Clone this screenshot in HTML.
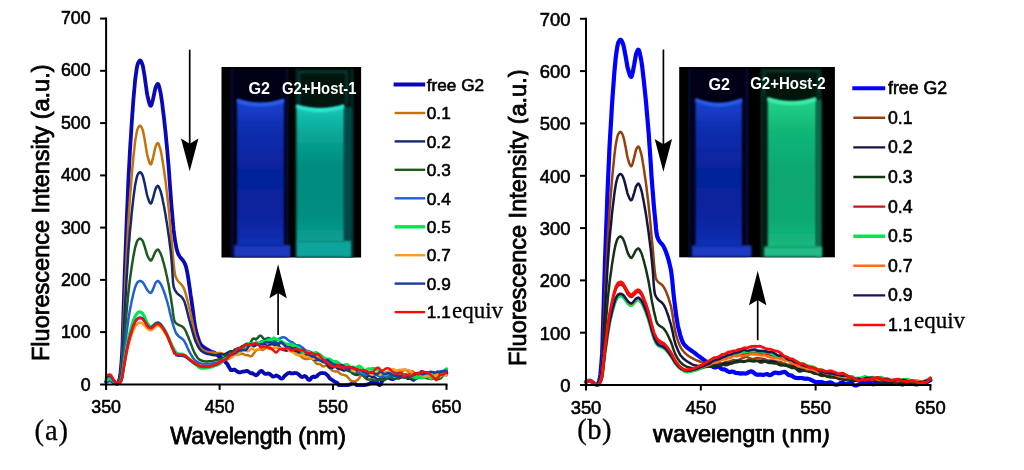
<!DOCTYPE html>
<html lang="en"><head><meta charset="utf-8"><title>Fluorescence spectra of G2 with Host-1 and Host-2</title>
<style>html,body{margin:0;padding:0;background:#fff}svg{display:block;filter:blur(.45px)}.t text{stroke:#000;stroke-width:.6px}</style></head><body>
<svg width="1024" height="470" viewBox="0 0 1024 470">
<defs>
<filter id="b1" filterUnits="userSpaceOnUse" x="200" y="50" width="660" height="230"><feGaussianBlur stdDeviation="0.9"/></filter>
<filter id="b2" filterUnits="userSpaceOnUse" x="200" y="50" width="660" height="230"><feGaussianBlur stdDeviation="1.4"/></filter>
<clipPath id="clipA"><rect x="221.5" y="67" width="139.6" height="190.5"/></clipPath>
<clipPath id="clipB"><rect x="679.2" y="67" width="155.7" height="190.3"/></clipPath>
<clipPath id="clipYL"><rect x="490" y="40" width="38.4" height="340"/></clipPath>
<clipPath id="clipWL"><rect x="600" y="428.7" width="300" height="30"/></clipPath>
<linearGradient id="gAl" x1="0" y1="0" x2="0" y2="1"><stop offset="0" stop-color="#2858e6"/><stop offset="0.04" stop-color="#1840cc"/><stop offset="0.2" stop-color="#0e2eb0"/><stop offset="0.5" stop-color="#06229a"/><stop offset="0.8" stop-color="#08249e"/><stop offset="1" stop-color="#1030b4"/></linearGradient>
<linearGradient id="gAr" x1="0" y1="0" x2="0" y2="1"><stop offset="0" stop-color="#30e8d4"/><stop offset="0.04" stop-color="#14c4b0"/><stop offset="0.2" stop-color="#0aa898"/><stop offset="0.45" stop-color="#008c7e"/><stop offset="0.8" stop-color="#028e80"/><stop offset="1" stop-color="#0aa094"/></linearGradient>
<linearGradient id="gBl" x1="0" y1="0" x2="0" y2="1"><stop offset="0" stop-color="#2858e6"/><stop offset="0.04" stop-color="#1840cc"/><stop offset="0.2" stop-color="#0e2eb0"/><stop offset="0.5" stop-color="#06229a"/><stop offset="0.8" stop-color="#08249e"/><stop offset="1" stop-color="#1030b4"/></linearGradient>
<linearGradient id="gBr" x1="0" y1="0" x2="0" y2="1"><stop offset="0" stop-color="#40f0a8"/><stop offset="0.04" stop-color="#20d088"/><stop offset="0.2" stop-color="#12b878"/><stop offset="0.5" stop-color="#08a86e"/><stop offset="0.8" stop-color="#0aaa70"/><stop offset="1" stop-color="#18b87e"/></linearGradient>
</defs>
<rect width="1024" height="470" fill="#fff"/>
<g id="chart-a">
<g fill="none" stroke-linejoin="round" stroke-linecap="round">
<path stroke="#0a0ab4" stroke-width="3.8" d="M106.1 381.8 L106.7 381.3 L107.2 381.0 L107.8 380.7 L108.4 380.5 L108.9 380.3 L109.5 380.2 L110.1 380.2 L110.6 380.3 L111.2 380.5 L111.8 380.8 L112.3 381.2 L112.9 381.6 L113.5 382.0 L114.0 382.3 L114.6 382.6 L115.2 383.0 L115.7 383.3 L116.3 383.6 L116.9 383.8 L117.4 383.9 L118.0 383.4 L118.6 382.1 L119.1 380.2 L119.7 377.9 L120.3 374.6 L120.8 369.7 L121.4 363.1 L122.0 355.2 L122.6 342.9 L123.1 325.0 L123.7 305.3 L124.3 287.2 L124.8 271.2 L125.4 255.5 L126.0 240.3 L126.5 225.6 L127.1 211.3 L127.7 197.4 L128.2 184.2 L128.8 172.2 L129.4 161.4 L129.9 151.5 L130.5 142.2 L131.1 133.3 L131.6 124.6 L132.2 116.1 L132.8 108.2 L133.3 100.9 L133.9 94.0 L134.5 87.4 L135.0 81.5 L135.6 76.6 L136.2 72.4 L136.7 68.6 L137.3 65.6 L137.9 63.6 L138.4 62.4 L139.0 61.4 L139.6 60.7 L140.1 60.4 L140.7 60.7 L141.3 61.7 L141.8 63.0 L142.4 64.5 L143.0 66.6 L143.5 69.7 L144.1 73.2 L144.7 76.8 L145.2 80.5 L145.8 84.8 L146.4 89.0 L146.9 92.9 L147.5 95.9 L148.1 98.3 L148.6 100.7 L149.2 102.8 L149.8 104.5 L150.3 105.6 L150.9 105.8 L151.5 104.9 L152.0 103.1 L152.6 100.7 L153.2 98.4 L153.7 96.0 L154.3 93.2 L154.9 90.3 L155.5 87.9 L156.0 86.5 L156.6 85.3 L157.2 84.4 L157.7 83.9 L158.3 84.3 L158.9 85.7 L159.4 87.8 L160.0 90.2 L160.6 92.7 L161.1 96.0 L161.7 99.9 L162.3 104.1 L162.8 108.7 L163.4 113.3 L164.0 118.0 L164.5 123.0 L165.1 128.3 L165.7 133.8 L166.2 139.6 L166.8 145.7 L167.4 151.9 L167.9 158.3 L168.5 165.1 L169.1 172.7 L169.6 180.6 L170.2 188.6 L170.8 196.4 L171.3 203.7 L171.9 210.5 L172.5 217.3 L173.0 223.8 L173.6 229.7 L174.2 234.5 L174.7 238.4 L175.3 242.0 L175.9 245.2 L176.4 248.0 L177.0 250.4 L177.6 252.2 L178.1 253.6 L178.7 254.8 L179.3 255.8 L179.8 256.7 L180.4 257.4 L181.0 258.1 L181.5 258.8 L182.1 259.4 L182.7 260.1 L183.2 260.8 L183.8 261.7 L184.4 262.7 L184.9 263.9 L185.5 265.2 L186.1 267.0 L186.6 269.4 L187.2 272.2 L187.8 275.5 L188.4 279.0 L188.9 282.8 L189.5 286.7 L190.1 290.7 L190.6 294.7 L191.2 298.6 L191.8 302.4 L192.3 306.2 L192.9 310.5 L193.5 314.9 L194.0 319.3 L194.6 323.3 L195.2 326.8 L195.7 329.5 L196.3 331.8 L196.9 333.9 L197.4 335.9 L198.0 337.7 L198.6 339.4 L199.1 341.0 L199.7 342.3 L200.3 343.5 L200.8 344.5 L201.4 345.2 L202.0 345.8 L202.5 346.3 L203.1 346.8 L203.7 347.2 L204.2 347.6 L204.8 348.0 L205.4 348.3 L205.9 348.6 L206.5 348.9 L207.1 349.2 L207.6 349.6 L208.2 349.9 L209.3 350.6 L210.5 351.2 L211.6 351.7 L212.7 352.1 L213.9 352.6 L215.0 353.0 L216.1 353.8 L217.3 354.8 L218.4 356.1 L219.6 356.9 L220.7 357.6 L221.8 358.4 L223.0 359.6 L224.1 361.0 L225.2 361.9 L226.4 363.1 L227.5 364.2 L228.6 366.6 L229.8 368.5 L230.9 370.2 L232.0 370.1 L233.2 369.8 L234.3 369.5 L235.4 370.2 L236.6 371.1 L237.7 371.8 L238.8 372.3 L240.0 372.3 L241.1 372.1 L242.2 371.7 L243.4 371.7 L244.5 371.4 L245.6 371.4 L246.8 370.8 L247.9 371.3 L249.0 372.0 L250.2 372.8 L251.3 373.4 L252.5 373.2 L253.6 374.1 L254.7 374.7 L255.9 375.4 L257.0 374.8 L258.1 373.8 L259.3 372.3 L260.4 371.2 L261.5 370.8 L262.7 371.8 L263.8 372.9 L264.9 373.9 L266.1 373.8 L267.2 373.8 L268.3 373.4 L269.5 373.9 L270.6 374.6 L271.7 375.8 L272.9 376.5 L274.0 376.4 L275.1 376.0 L276.3 375.4 L277.4 375.9 L278.5 376.4 L279.7 377.6 L280.8 378.5 L281.9 378.6 L283.1 378.0 L284.2 376.3 L285.4 375.3 L286.5 374.3 L287.6 373.3 L288.8 373.0 L289.9 372.7 L291.0 373.5 L292.2 373.3 L293.3 373.4 L294.4 373.0 L295.6 373.1 L296.7 373.2 L297.8 373.8 L299.0 374.7 L300.1 375.9 L301.2 376.8 L302.4 377.0 L303.5 376.5 L304.6 376.0 L305.8 376.5 L306.9 377.8 L308.0 379.5 L309.2 379.9 L310.3 379.6 L311.4 377.7 L312.6 377.0 L313.7 376.5 L314.8 377.1 L316.0 376.7 L317.1 375.9 L318.3 374.5 L319.4 373.8 L320.5 373.2 L321.7 373.1 L322.8 373.0 L323.9 373.2 L325.1 373.4 L326.2 374.1 L327.3 375.1 L328.5 376.5 L329.6 378.1 L330.7 379.0 L331.9 379.8 L333.0 380.5 L334.1 381.4 L335.3 382.0 L336.4 382.4 L337.5 383.1 L338.7 385.1 L339.8 385.2 L340.9 385.2 L342.1 385.2 L343.2 385.1 L344.3 385.2 L345.5 385.2 L346.6 385.2 L347.7 385.2 L348.9 384.6 L350.0 384.6 L351.2 383.8 L352.3 383.7 L353.4 382.7 L354.6 383.4 L355.7 384.3 L356.8 385.2 L358.0 385.2 L359.1 385.2 L360.2 385.2 L361.4 385.2 L362.5 385.2 L363.6 385.2 L364.8 385.1 L365.9 384.7 L367.0 384.7 L368.2 384.2 L369.3 384.0 L370.4 382.9 L371.6 383.0 L372.7 382.9 L373.8 383.1 L375.0 382.5 L376.1 382.3 L377.2 383.2 L378.4 384.4 L379.5 385.1 L380.6 384.4 L381.8 382.1 L382.9 379.4 L384.1 377.2 L385.2 376.7 L386.3 376.8 L387.5 377.5 L388.6 377.9 L389.7 378.3 L390.9 378.8 L392.0 379.0 L393.1 379.0 L394.3 378.4 L395.4 377.9 L396.5 377.7 L397.7 377.7 L398.8 377.8 L399.9 377.3 L401.1 376.7 L402.2 376.3 L403.3 376.5 L404.5 376.6 L405.6 377.0 L406.7 377.2 L407.9 378.2 L409.0 378.1 L410.1 378.2 L411.3 378.4 L412.4 379.3 L413.5 379.9 L414.7 378.7 L415.8 377.6 L417.0 376.2 L418.1 375.7 L419.2 374.4 L420.4 373.4 L421.5 372.0 L422.6 372.2 L423.8 373.2 L424.9 375.4 L426.0 376.5 L427.2 376.4 L428.3 376.5 L429.4 377.3 L430.6 378.2 L431.7 377.9 L432.8 377.0 L434.0 376.4 L435.1 376.3 L436.2 376.3 L437.4 376.5 L438.5 375.7 L439.6 374.9 L440.8 373.2 L441.9 373.0 L443.0 372.6 L444.2 373.3 L445.3 372.8 L446.5 372.8"/>
<path stroke="#c4720e" stroke-width="2.5" d="M106.1 382.3 L106.7 381.9 L107.2 381.5 L107.8 381.2 L108.4 381.0 L108.9 380.9 L109.5 380.8 L110.1 380.7 L110.6 380.8 L111.2 381.1 L111.8 381.4 L112.3 381.8 L112.9 382.2 L113.5 382.6 L114.0 382.8 L114.6 383.1 L115.2 383.3 L115.7 383.5 L116.3 383.7 L116.9 383.8 L117.4 383.9 L118.0 383.5 L118.6 382.5 L119.1 381.0 L119.7 379.2 L120.3 376.6 L120.8 372.6 L121.4 367.4 L122.0 361.1 L122.6 351.2 L123.1 337.0 L123.7 321.3 L124.3 306.8 L124.8 294.0 L125.4 281.5 L126.0 269.3 L126.5 257.6 L127.1 246.2 L127.7 235.1 L128.2 224.5 L128.8 215.0 L129.4 206.4 L129.9 198.5 L130.5 191.1 L131.1 183.9 L131.6 176.9 L132.2 170.2 L132.8 163.9 L133.3 158.0 L133.9 152.5 L134.5 147.3 L135.0 142.5 L135.6 138.6 L136.2 135.3 L136.7 132.3 L137.3 129.9 L137.9 128.3 L138.4 127.3 L139.0 126.5 L139.6 125.9 L140.1 125.7 L140.7 126.0 L141.3 126.8 L141.8 127.9 L142.4 129.2 L143.0 131.0 L143.5 133.6 L144.1 136.6 L144.7 139.6 L145.2 142.8 L145.8 146.4 L146.4 150.1 L146.9 153.3 L147.5 155.9 L148.1 157.9 L148.6 160.0 L149.2 161.8 L149.8 163.2 L150.3 164.1 L150.9 164.4 L151.5 163.5 L152.0 161.6 L152.6 159.4 L153.2 157.1 L153.7 154.8 L154.3 152.0 L154.9 149.2 L155.5 146.9 L156.0 145.5 L156.6 144.3 L157.2 143.4 L157.7 143.0 L158.3 143.3 L158.9 144.4 L159.4 146.1 L160.0 147.9 L160.6 149.9 L161.1 152.5 L161.7 155.5 L162.3 158.9 L162.8 162.5 L163.4 166.1 L164.0 169.8 L164.5 173.8 L165.1 178.0 L165.7 182.3 L166.2 186.9 L166.8 191.7 L167.4 196.6 L167.9 201.7 L168.5 207.0 L169.1 212.8 L169.6 218.9 L170.2 225.2 L170.8 231.4 L171.3 237.4 L171.9 243.4 L172.5 250.0 L173.0 256.7 L173.6 263.1 L174.2 268.7 L174.7 273.1 L175.3 275.7 L175.9 277.2 L176.4 278.4 L177.0 279.5 L177.6 280.4 L178.1 281.1 L178.7 281.8 L179.3 282.4 L179.8 282.9 L180.4 283.5 L181.0 284.1 L181.5 284.7 L182.1 285.4 L182.7 286.2 L183.2 287.1 L183.8 288.2 L184.4 289.6 L184.9 291.2 L185.5 293.0 L186.1 295.0 L186.6 297.2 L187.2 299.4 L187.8 301.8 L188.4 304.1 L188.9 306.5 L189.5 308.9 L190.1 311.2 L190.6 313.6 L191.2 316.2 L191.8 319.0 L192.3 321.7 L192.9 324.5 L193.5 327.3 L194.0 329.9 L194.6 332.3 L195.2 334.5 L195.7 336.3 L196.3 338.0 L196.9 339.6 L197.4 341.2 L198.0 342.7 L198.6 344.1 L199.1 345.4 L199.7 346.6 L200.3 347.5 L200.8 348.3 L201.4 348.9 L202.0 349.3 L202.5 349.7 L203.1 350.0 L203.7 350.4 L204.2 350.7 L204.8 350.9 L205.4 351.2 L205.9 351.4 L206.5 351.6 L207.1 351.7 L207.6 351.9 L208.2 352.0 L209.3 352.2 L210.5 352.3 L211.6 352.4 L212.7 352.4 L213.9 352.6 L215.0 353.0 L216.1 353.2 L217.3 353.2 L218.4 352.9 L219.6 352.9 L220.7 352.9 L221.8 353.3 L223.0 353.8 L224.1 354.3 L225.2 354.3 L226.4 353.8 L227.5 353.4 L228.6 353.5 L229.8 353.7 L230.9 353.8 L232.0 353.8 L233.2 354.3 L234.3 354.6 L235.4 354.8 L236.6 354.3 L237.7 354.4 L238.8 354.3 L240.0 354.2 L241.1 353.8 L242.2 353.7 L243.4 354.0 L244.5 354.7 L245.6 355.1 L246.8 355.2 L247.9 355.1 L249.0 355.6 L250.2 356.3 L251.3 356.2 L252.5 355.4 L253.6 353.6 L254.7 352.2 L255.9 350.8 L257.0 350.1 L258.1 349.6 L259.3 349.4 L260.4 349.5 L261.5 349.6 L262.7 350.0 L263.8 349.3 L264.9 348.9 L266.1 347.7 L267.2 348.0 L268.3 348.2 L269.5 349.1 L270.6 349.0 L271.7 348.5 L272.9 347.9 L274.0 347.6 L275.1 347.6 L276.3 347.7 L277.4 347.7 L278.5 348.0 L279.7 348.2 L280.8 348.5 L281.9 348.5 L283.1 349.2 L284.2 349.9 L285.4 350.8 L286.5 350.5 L287.6 350.1 L288.8 349.6 L289.9 349.4 L291.0 349.4 L292.2 350.3 L293.3 351.4 L294.4 352.9 L295.6 353.9 L296.7 354.5 L297.8 354.9 L299.0 355.1 L300.1 355.8 L301.2 356.6 L302.4 357.7 L303.5 358.4 L304.6 358.7 L305.8 359.0 L306.9 359.1 L308.0 359.1 L309.2 358.7 L310.3 358.2 L311.4 358.3 L312.6 358.9 L313.7 360.2 L314.8 361.5 L316.0 363.2 L317.1 364.0 L318.3 364.1 L319.4 363.9 L320.5 364.4 L321.7 365.6 L322.8 366.4 L323.9 366.3 L325.1 365.9 L326.2 365.6 L327.3 366.3 L328.5 367.1 L329.6 368.4 L330.7 369.3 L331.9 370.2 L333.0 370.8 L334.1 371.2 L335.3 371.4 L336.4 371.2 L337.5 371.4 L338.7 372.3 L339.8 373.4 L340.9 374.1 L342.1 374.5 L343.2 374.8 L344.3 375.1 L345.5 375.5 L346.6 375.9 L347.7 377.1 L348.9 378.5 L350.0 380.0 L351.2 380.8 L352.3 381.1 L353.4 381.3 L354.6 381.4 L355.7 381.0 L356.8 380.4 L358.0 379.6 L359.1 378.3 L360.2 376.5 L361.4 375.2 L362.5 375.4 L363.6 376.0 L364.8 375.5 L365.9 374.7 L367.0 374.1 L368.2 374.4 L369.3 374.4 L370.4 374.5 L371.6 374.7 L372.7 375.3 L373.8 375.1 L375.0 375.0 L376.1 374.6 L377.2 375.1 L378.4 375.2 L379.5 375.7 L380.6 376.1 L381.8 376.7 L382.9 377.0 L384.1 376.9 L385.2 376.1 L386.3 375.4 L387.5 374.6 L388.6 374.1 L389.7 373.4 L390.9 372.9 L392.0 373.0 L393.1 373.1 L394.3 373.0 L395.4 372.2 L396.5 371.2 L397.7 371.0 L398.8 371.4 L399.9 372.3 L401.1 372.8 L402.2 371.9 L403.3 370.7 L404.5 369.4 L405.6 369.7 L406.7 370.7 L407.9 371.5 L409.0 371.7 L410.1 371.4 L411.3 371.3 L412.4 371.3 L413.5 372.1 L414.7 373.4 L415.8 374.5 L417.0 374.7 L418.1 374.6 L419.2 374.4 L420.4 374.8 L421.5 375.0 L422.6 375.8 L423.8 376.2 L424.9 376.0 L426.0 375.3 L427.2 374.7 L428.3 375.1 L429.4 375.9 L430.6 376.7 L431.7 377.2 L432.8 377.2 L434.0 376.8 L435.1 376.6 L436.2 376.9 L437.4 377.0 L438.5 376.3 L439.6 375.3 L440.8 374.6 L441.9 374.2 L443.0 373.8 L444.2 374.0 L445.3 374.7 L446.5 375.5"/>
<path stroke="#15286e" stroke-width="2.5" d="M106.1 382.3 L106.7 381.9 L107.2 381.5 L107.8 381.2 L108.4 381.0 L108.9 380.9 L109.5 380.8 L110.1 380.7 L110.6 380.8 L111.2 381.1 L111.8 381.4 L112.3 381.8 L112.9 382.2 L113.5 382.6 L114.0 382.8 L114.6 383.1 L115.2 383.3 L115.7 383.5 L116.3 383.7 L116.9 383.8 L117.4 383.9 L118.0 383.6 L118.6 382.8 L119.1 381.6 L119.7 380.2 L120.3 378.0 L120.8 374.8 L121.4 370.5 L122.0 365.3 L122.6 357.2 L123.1 345.5 L123.7 332.6 L124.3 320.7 L124.8 310.3 L125.4 300.0 L126.0 290.0 L126.5 280.4 L127.1 271.1 L127.7 261.9 L128.2 253.3 L128.8 245.4 L129.4 238.4 L129.9 231.9 L130.5 225.8 L131.1 220.0 L131.6 214.2 L132.2 208.7 L132.8 203.5 L133.3 198.7 L133.9 194.2 L134.5 189.9 L135.0 186.0 L135.6 182.8 L136.2 180.1 L136.7 177.6 L137.3 175.6 L137.9 174.3 L138.4 173.5 L139.0 172.9 L139.6 172.4 L140.1 172.2 L140.7 172.5 L141.3 173.1 L141.8 174.0 L142.4 175.0 L143.0 176.5 L143.5 178.6 L144.1 181.1 L144.7 183.5 L145.2 186.1 L145.8 189.0 L146.4 192.0 L146.9 194.6 L147.5 196.7 L148.1 198.4 L148.6 200.0 L149.2 201.5 L149.8 202.6 L150.3 203.4 L150.9 203.6 L151.5 202.8 L152.0 201.3 L152.6 199.4 L153.2 197.5 L153.7 195.6 L154.3 193.3 L154.9 191.0 L155.5 189.1 L156.0 187.9 L156.6 186.9 L157.2 186.2 L157.7 185.8 L158.3 186.1 L158.9 186.9 L159.4 188.2 L160.0 189.6 L160.6 191.1 L161.1 193.1 L161.7 195.4 L162.3 197.9 L162.8 200.6 L163.4 203.4 L164.0 206.2 L164.5 209.2 L165.1 212.4 L165.7 215.7 L166.2 219.2 L166.8 222.8 L167.4 226.6 L167.9 230.4 L168.5 234.3 L169.1 238.4 L169.6 242.6 L170.2 247.1 L170.8 251.9 L171.3 257.3 L171.9 264.3 L172.5 273.6 L173.0 282.0 L173.6 286.7 L174.2 288.2 L174.7 289.5 L175.3 290.7 L175.9 291.6 L176.4 292.4 L177.0 293.1 L177.6 293.7 L178.1 294.2 L178.7 294.6 L179.3 295.1 L179.8 295.5 L180.4 295.9 L181.0 296.4 L181.5 296.9 L182.1 297.6 L182.7 298.3 L183.2 299.2 L183.8 300.3 L184.4 301.6 L184.9 303.2 L185.5 305.0 L186.1 307.1 L186.6 309.2 L187.2 311.5 L187.8 313.9 L188.4 316.2 L188.9 318.5 L189.5 320.7 L190.1 322.7 L190.6 324.7 L191.2 326.8 L191.8 328.9 L192.3 331.0 L192.9 333.0 L193.5 335.0 L194.0 336.9 L194.6 338.6 L195.2 340.2 L195.7 341.5 L196.3 342.8 L196.9 344.0 L197.4 345.2 L198.0 346.3 L198.6 347.3 L199.1 348.2 L199.7 349.1 L200.3 349.8 L200.8 350.5 L201.4 351.0 L202.0 351.4 L202.5 351.7 L203.1 352.1 L203.7 352.4 L204.2 352.7 L204.8 353.0 L205.4 353.2 L205.9 353.5 L206.5 353.7 L207.1 353.8 L207.6 354.0 L208.2 354.1 L209.3 354.3 L210.5 354.5 L211.6 354.7 L212.7 355.0 L213.9 355.2 L215.0 355.2 L216.1 355.2 L217.3 355.0 L218.4 354.8 L219.6 354.4 L220.7 354.3 L221.8 354.4 L223.0 354.6 L224.1 354.4 L225.2 353.9 L226.4 353.4 L227.5 352.7 L228.6 352.0 L229.8 351.4 L230.9 351.2 L232.0 351.3 L233.2 351.4 L234.3 351.0 L235.4 350.3 L236.6 349.0 L237.7 348.5 L238.8 347.9 L240.0 348.0 L241.1 347.6 L242.2 347.3 L243.4 347.1 L244.5 347.1 L245.6 347.3 L246.8 347.2 L247.9 346.7 L249.0 346.1 L250.2 344.9 L251.3 345.1 L252.5 345.3 L253.6 346.3 L254.7 345.9 L255.9 345.2 L257.0 344.4 L258.1 344.0 L259.3 344.0 L260.4 343.6 L261.5 343.2 L262.7 342.6 L263.8 343.3 L264.9 344.1 L266.1 345.3 L267.2 345.8 L268.3 345.9 L269.5 345.1 L270.6 344.2 L271.7 344.1 L272.9 344.3 L274.0 344.7 L275.1 344.5 L276.3 344.8 L277.4 345.1 L278.5 345.6 L279.7 346.8 L280.8 348.0 L281.9 349.4 L283.1 349.9 L284.2 350.1 L285.4 350.1 L286.5 350.5 L287.6 350.3 L288.8 349.6 L289.9 348.9 L291.0 349.1 L292.2 349.8 L293.3 350.4 L294.4 350.9 L295.6 350.8 L296.7 351.4 L297.8 351.8 L299.0 352.8 L300.1 353.4 L301.2 354.0 L302.4 354.4 L303.5 354.4 L304.6 354.6 L305.8 354.2 L306.9 354.7 L308.0 355.1 L309.2 356.3 L310.3 357.2 L311.4 358.6 L312.6 359.0 L313.7 359.4 L314.8 359.2 L316.0 359.8 L317.1 359.9 L318.3 359.9 L319.4 359.6 L320.5 360.0 L321.7 361.2 L322.8 362.1 L323.9 362.3 L325.1 362.4 L326.2 363.1 L327.3 364.9 L328.5 366.3 L329.6 367.5 L330.7 367.8 L331.9 368.1 L333.0 367.5 L334.1 367.1 L335.3 366.6 L336.4 367.3 L337.5 368.5 L338.7 369.1 L339.8 369.2 L340.9 369.1 L342.1 369.9 L343.2 370.4 L344.3 370.6 L345.5 370.1 L346.6 369.9 L347.7 369.7 L348.9 370.3 L350.0 371.0 L351.2 372.0 L352.3 372.8 L353.4 373.5 L354.6 374.4 L355.7 374.5 L356.8 375.0 L358.0 374.5 L359.1 374.3 L360.2 373.2 L361.4 373.2 L362.5 373.7 L363.6 375.2 L364.8 376.8 L365.9 377.5 L367.0 377.1 L368.2 376.1 L369.3 375.7 L370.4 376.1 L371.6 376.8 L372.7 377.2 L373.8 377.2 L375.0 377.5 L376.1 378.4 L377.2 379.4 L378.4 379.4 L379.5 378.9 L380.6 378.3 L381.8 378.7 L382.9 378.6 L384.1 378.2 L385.2 376.5 L386.3 375.7 L387.5 375.4 L388.6 376.8 L389.7 377.4 L390.9 377.8 L392.0 376.8 L393.1 376.2 L394.3 375.4 L395.4 374.7 L396.5 374.0 L397.7 373.4 L398.8 373.9 L399.9 374.7 L401.1 375.6 L402.2 375.7 L403.3 375.3 L404.5 374.6 L405.6 374.6 L406.7 374.9 L407.9 375.9 L409.0 376.5 L410.1 376.9 L411.3 377.0 L412.4 376.8 L413.5 376.7 L414.7 376.2 L415.8 376.2 L417.0 375.7 L418.1 376.0 L419.2 375.9 L420.4 376.6 L421.5 376.4 L422.6 376.2 L423.8 375.7 L424.9 375.9 L426.0 376.6 L427.2 376.9 L428.3 377.0 L429.4 376.3 L430.6 376.3 L431.7 376.0 L432.8 376.0 L434.0 375.4 L435.1 374.9 L436.2 374.3 L437.4 374.2 L438.5 374.1 L439.6 374.5 L440.8 374.8 L441.9 375.2 L443.0 374.3 L444.2 372.8 L445.3 371.3 L446.5 370.8"/>
<path stroke="#1e5a1e" stroke-width="2.5" d="M106.1 381.8 L106.7 381.3 L107.2 380.9 L107.8 380.7 L108.4 380.5 L108.9 380.3 L109.5 380.2 L110.1 380.2 L110.6 380.3 L111.2 380.6 L111.8 381.1 L112.3 381.6 L112.9 382.1 L113.5 382.5 L114.0 382.8 L114.6 383.1 L115.2 383.3 L115.7 383.5 L116.3 383.7 L116.9 383.8 L117.4 383.9 L118.0 383.7 L118.6 383.2 L119.1 382.4 L119.7 381.5 L120.3 380.1 L120.8 377.8 L121.4 374.8 L122.0 371.3 L122.6 365.7 L123.1 357.7 L123.7 348.8 L124.3 340.7 L124.8 333.4 L125.4 326.4 L126.0 319.5 L126.5 313.0 L127.1 306.5 L127.7 300.2 L128.2 294.3 L128.8 288.9 L129.4 284.1 L129.9 279.6 L130.5 275.4 L131.1 271.4 L131.6 267.5 L132.2 263.7 L132.8 260.1 L133.3 256.8 L133.9 253.7 L134.5 250.7 L135.0 248.1 L135.6 245.9 L136.2 244.0 L136.7 242.3 L137.3 240.9 L137.9 240.1 L138.4 239.5 L139.0 239.0 L139.6 238.7 L140.1 238.6 L140.7 238.8 L141.3 239.2 L141.8 239.8 L142.4 240.6 L143.0 241.6 L143.5 243.1 L144.1 244.8 L144.7 246.5 L145.2 248.3 L145.8 250.4 L146.4 252.4 L146.9 254.3 L147.5 255.7 L148.1 256.9 L148.6 258.0 L149.2 259.1 L149.8 259.9 L150.3 260.4 L150.9 260.5 L151.5 260.1 L152.0 259.1 L152.6 258.0 L153.2 256.8 L153.7 255.6 L154.3 254.2 L154.9 252.8 L155.5 251.6 L156.0 250.9 L156.6 250.3 L157.2 249.8 L157.7 249.6 L158.3 249.7 L158.9 250.4 L159.4 251.3 L160.0 252.3 L160.6 253.4 L161.1 254.8 L161.7 256.4 L162.3 258.2 L162.8 260.2 L163.4 262.2 L164.0 264.2 L164.5 266.3 L165.1 268.6 L165.7 271.0 L166.2 273.5 L166.8 276.0 L167.4 278.7 L167.9 281.5 L168.5 284.3 L169.1 287.4 L169.6 290.7 L170.2 294.0 L170.8 297.4 L171.3 300.8 L171.9 304.5 L172.5 308.7 L173.0 313.0 L173.6 317.0 L174.2 320.0 L174.7 321.7 L175.3 322.4 L175.9 323.1 L176.4 323.6 L177.0 324.0 L177.6 324.4 L178.1 324.7 L178.7 325.0 L179.3 325.2 L179.8 325.4 L180.4 325.7 L181.0 325.9 L181.5 326.2 L182.1 326.5 L182.7 326.9 L183.2 327.4 L183.8 328.0 L184.4 328.7 L184.9 329.6 L185.5 330.6 L186.1 331.8 L186.6 333.1 L187.2 334.5 L187.8 335.9 L188.4 337.3 L188.9 338.8 L189.5 340.2 L190.1 341.5 L190.6 343.0 L191.2 344.5 L191.8 346.1 L192.3 347.6 L192.9 349.2 L193.5 350.6 L194.0 351.9 L194.6 353.0 L195.2 354.0 L195.7 355.0 L196.3 355.9 L196.9 356.8 L197.4 357.6 L198.0 358.3 L198.6 358.9 L199.1 359.4 L199.7 359.8 L200.3 360.0 L200.8 360.3 L201.4 360.5 L202.0 360.7 L202.5 360.9 L203.1 361.0 L203.7 361.2 L204.2 361.3 L204.8 361.3 L205.4 361.4 L205.9 361.4 L206.5 361.4 L207.1 361.4 L207.6 361.4 L208.2 361.3 L209.3 361.3 L210.5 361.2 L211.6 361.1 L212.7 360.9 L213.9 360.6 L215.0 360.2 L216.1 360.1 L217.3 359.9 L218.4 359.5 L219.6 359.1 L220.7 358.7 L221.8 358.5 L223.0 358.2 L224.1 357.6 L225.2 356.4 L226.4 355.2 L227.5 354.8 L228.6 355.1 L229.8 355.0 L230.9 354.2 L232.0 352.3 L233.2 351.0 L234.3 349.8 L235.4 349.2 L236.6 349.3 L237.7 349.4 L238.8 349.2 L240.0 348.0 L241.1 346.9 L242.2 346.0 L243.4 345.8 L244.5 344.9 L245.6 344.3 L246.8 343.7 L247.9 343.7 L249.0 343.8 L250.2 342.9 L251.3 341.3 L252.5 339.1 L253.6 338.5 L254.7 338.7 L255.9 339.4 L257.0 338.6 L258.1 337.5 L259.3 335.9 L260.4 335.6 L261.5 336.1 L262.7 337.7 L263.8 338.8 L264.9 339.2 L266.1 338.8 L267.2 338.4 L268.3 337.9 L269.5 338.4 L270.6 339.0 L271.7 339.5 L272.9 339.9 L274.0 340.5 L275.1 341.8 L276.3 342.5 L277.4 343.3 L278.5 343.5 L279.7 343.4 L280.8 343.0 L281.9 342.8 L283.1 344.0 L284.2 345.0 L285.4 346.1 L286.5 346.1 L287.6 346.3 L288.8 346.2 L289.9 346.6 L291.0 347.1 L292.2 347.7 L293.3 348.1 L294.4 348.2 L295.6 348.7 L296.7 349.3 L297.8 350.1 L299.0 350.8 L300.1 351.2 L301.2 351.5 L302.4 351.9 L303.5 353.1 L304.6 354.1 L305.8 354.5 L306.9 354.5 L308.0 354.8 L309.2 355.6 L310.3 356.2 L311.4 356.9 L312.6 357.0 L313.7 357.4 L314.8 358.2 L316.0 359.3 L317.1 360.0 L318.3 360.1 L319.4 360.1 L320.5 360.0 L321.7 360.7 L322.8 361.6 L323.9 362.1 L325.1 361.5 L326.2 361.0 L327.3 361.1 L328.5 361.5 L329.6 362.6 L330.7 363.4 L331.9 364.7 L333.0 365.1 L334.1 365.2 L335.3 364.9 L336.4 365.1 L337.5 366.1 L338.7 367.0 L339.8 367.3 L340.9 367.2 L342.1 367.4 L343.2 367.8 L344.3 367.9 L345.5 368.3 L346.6 369.3 L347.7 370.7 L348.9 371.2 L350.0 371.6 L351.2 372.0 L352.3 373.3 L353.4 373.8 L354.6 374.2 L355.7 373.5 L356.8 373.6 L358.0 373.2 L359.1 373.5 L360.2 373.6 L361.4 374.0 L362.5 374.9 L363.6 376.0 L364.8 377.5 L365.9 378.4 L367.0 379.2 L368.2 379.6 L369.3 379.6 L370.4 379.4 L371.6 379.5 L372.7 379.8 L373.8 380.5 L375.0 380.4 L376.1 380.6 L377.2 380.4 L378.4 380.7 L379.5 380.0 L380.6 379.7 L381.8 379.5 L382.9 380.3 L384.1 380.2 L385.2 379.9 L386.3 378.8 L387.5 378.3 L388.6 377.5 L389.7 377.2 L390.9 377.3 L392.0 378.0 L393.1 378.4 L394.3 378.4 L395.4 378.2 L396.5 378.0 L397.7 377.7 L398.8 377.4 L399.9 377.4 L401.1 377.2 L402.2 377.2 L403.3 377.3 L404.5 377.8 L405.6 377.8 L406.7 377.7 L407.9 377.9 L409.0 378.2 L410.1 378.3 L411.3 378.3 L412.4 379.1 L413.5 379.4 L414.7 379.3 L415.8 378.5 L417.0 378.4 L418.1 377.9 L419.2 377.9 L420.4 377.7 L421.5 378.0 L422.6 377.8 L423.8 377.5 L424.9 377.2 L426.0 377.8 L427.2 378.2 L428.3 378.7 L429.4 378.7 L430.6 378.9 L431.7 379.0 L432.8 378.5 L434.0 378.4 L435.1 378.6 L436.2 379.5 L437.4 379.3 L438.5 379.2 L439.6 378.6 L440.8 378.2 L441.9 376.8 L443.0 375.7 L444.2 375.0 L445.3 374.8 L446.5 374.4"/>
<path stroke="#1f60d2" stroke-width="2.5" d="M106.1 381.8 L106.7 381.3 L107.2 381.0 L107.8 380.7 L108.4 380.5 L108.9 380.3 L109.5 380.2 L110.1 380.2 L110.6 380.3 L111.2 380.5 L111.8 380.8 L112.3 381.2 L112.9 381.6 L113.5 382.0 L114.0 382.3 L114.6 382.6 L115.2 383.0 L115.7 383.3 L116.3 383.6 L116.9 383.8 L117.4 383.9 L118.0 383.8 L118.6 383.4 L119.1 382.9 L119.7 382.3 L120.3 381.3 L120.8 379.7 L121.4 377.6 L122.0 375.1 L122.6 371.1 L123.1 365.4 L123.7 359.1 L124.3 353.4 L124.8 348.2 L125.4 343.2 L126.0 338.4 L126.5 333.7 L127.1 329.1 L127.7 324.7 L128.2 320.5 L128.8 316.6 L129.4 313.2 L129.9 310.0 L130.5 307.1 L131.1 304.2 L131.6 301.4 L132.2 298.7 L132.8 296.2 L133.3 293.9 L133.9 291.7 L134.5 289.5 L135.0 287.7 L135.6 286.1 L136.2 284.8 L136.7 283.6 L137.3 282.6 L137.9 282.0 L138.4 281.6 L139.0 281.2 L139.6 281.0 L140.1 280.9 L140.7 281.0 L141.3 281.3 L141.8 281.6 L142.4 282.0 L143.0 282.6 L143.5 283.4 L144.1 284.3 L144.7 285.3 L145.2 286.2 L145.8 287.4 L146.4 288.5 L146.9 289.5 L147.5 290.3 L148.1 290.9 L148.6 291.6 L149.2 292.1 L149.8 292.6 L150.3 292.9 L150.9 292.9 L151.5 292.4 L152.0 291.4 L152.6 290.1 L153.2 288.9 L153.7 287.6 L154.3 286.0 L154.9 284.4 L155.5 283.1 L156.0 282.3 L156.6 281.7 L157.2 281.2 L157.7 280.9 L158.3 281.1 L158.9 281.5 L159.4 282.2 L160.0 282.9 L160.6 283.7 L161.1 284.7 L161.7 285.9 L162.3 287.3 L162.8 288.7 L163.4 290.1 L164.0 291.6 L164.5 293.2 L165.1 294.8 L165.7 296.6 L166.2 298.4 L166.8 300.3 L167.4 302.3 L167.9 304.3 L168.5 306.4 L169.1 308.8 L169.6 311.3 L170.2 313.8 L170.8 316.2 L171.3 318.5 L171.9 320.6 L172.5 322.6 L173.0 324.6 L173.6 326.4 L174.2 328.1 L174.7 329.7 L175.3 331.3 L175.9 332.7 L176.4 333.7 L177.0 334.5 L177.6 335.1 L178.1 335.7 L178.7 336.2 L179.3 336.7 L179.8 337.1 L180.4 337.5 L181.0 337.9 L181.5 338.3 L182.1 338.7 L182.7 339.2 L183.2 339.8 L183.8 340.5 L184.4 341.3 L184.9 342.3 L185.5 343.4 L186.1 344.6 L186.6 345.8 L187.2 347.1 L187.8 348.4 L188.4 349.7 L188.9 350.9 L189.5 352.0 L190.1 353.0 L190.6 354.0 L191.2 354.9 L191.8 355.9 L192.3 356.8 L192.9 357.7 L193.5 358.5 L194.0 359.2 L194.6 359.9 L195.2 360.5 L195.7 360.9 L196.3 361.2 L196.9 361.6 L197.4 361.9 L198.0 362.2 L198.6 362.5 L199.1 362.8 L199.7 363.1 L200.3 363.3 L200.8 363.5 L201.4 363.7 L202.0 363.8 L202.5 363.9 L203.1 364.0 L203.7 364.0 L204.2 364.0 L204.8 364.0 L205.4 364.0 L205.9 364.0 L206.5 364.0 L207.1 363.9 L207.6 363.9 L208.2 363.9 L209.3 363.8 L210.5 363.8 L211.6 363.7 L212.7 363.4 L213.9 363.1 L215.0 362.9 L216.1 362.7 L217.3 362.5 L218.4 362.1 L219.6 361.6 L220.7 361.0 L221.8 360.4 L223.0 359.9 L224.1 359.7 L225.2 360.0 L226.4 359.7 L227.5 359.1 L228.6 357.6 L229.8 356.3 L230.9 355.0 L232.0 354.0 L233.2 353.3 L234.3 352.7 L235.4 353.1 L236.6 352.9 L237.7 352.3 L238.8 351.0 L240.0 350.4 L241.1 349.7 L242.2 349.0 L243.4 348.0 L244.5 347.8 L245.6 347.7 L246.8 347.4 L247.9 346.5 L249.0 345.4 L250.2 344.6 L251.3 344.5 L252.5 344.4 L253.6 344.2 L254.7 343.4 L255.9 342.7 L257.0 342.6 L258.1 342.9 L259.3 342.8 L260.4 342.1 L261.5 341.3 L262.7 341.3 L263.8 341.3 L264.9 341.7 L266.1 341.4 L267.2 341.6 L268.3 341.2 L269.5 340.7 L270.6 339.9 L271.7 339.6 L272.9 339.8 L274.0 340.1 L275.1 340.4 L276.3 340.5 L277.4 339.9 L278.5 339.3 L279.7 338.3 L280.8 337.9 L281.9 337.4 L283.1 337.3 L284.2 337.3 L285.4 337.9 L286.5 338.6 L287.6 339.7 L288.8 340.5 L289.9 341.4 L291.0 341.8 L292.2 342.2 L293.3 342.9 L294.4 343.8 L295.6 345.0 L296.7 345.4 L297.8 345.3 L299.0 345.4 L300.1 345.9 L301.2 346.8 L302.4 347.5 L303.5 348.4 L304.6 349.5 L305.8 350.4 L306.9 351.0 L308.0 350.9 L309.2 351.6 L310.3 351.7 L311.4 352.5 L312.6 352.7 L313.7 354.3 L314.8 355.3 L316.0 356.2 L317.1 356.4 L318.3 356.3 L319.4 357.0 L320.5 357.4 L321.7 359.1 L322.8 359.9 L323.9 361.2 L325.1 361.0 L326.2 361.8 L327.3 362.4 L328.5 363.1 L329.6 363.1 L330.7 362.6 L331.9 362.8 L333.0 362.9 L334.1 363.8 L335.3 364.3 L336.4 364.4 L337.5 363.9 L338.7 363.5 L339.8 364.4 L340.9 365.5 L342.1 366.3 L343.2 366.7 L344.3 367.8 L345.5 368.8 L346.6 369.1 L347.7 368.4 L348.9 368.3 L350.0 368.4 L351.2 368.8 L352.3 369.0 L353.4 369.1 L354.6 369.6 L355.7 370.0 L356.8 371.2 L358.0 372.3 L359.1 373.1 L360.2 373.1 L361.4 373.0 L362.5 373.7 L363.6 374.7 L364.8 375.5 L365.9 374.8 L367.0 373.9 L368.2 373.5 L369.3 374.0 L370.4 374.3 L371.6 374.3 L372.7 374.3 L373.8 374.4 L375.0 374.3 L376.1 374.7 L377.2 375.0 L378.4 375.9 L379.5 376.5 L380.6 376.8 L381.8 376.7 L382.9 376.2 L384.1 376.4 L385.2 376.4 L386.3 376.8 L387.5 376.6 L388.6 376.3 L389.7 376.0 L390.9 374.9 L392.0 374.6 L393.1 374.1 L394.3 373.9 L395.4 373.0 L396.5 372.7 L397.7 373.1 L398.8 373.8 L399.9 374.0 L401.1 374.0 L402.2 374.1 L403.3 374.3 L404.5 374.4 L405.6 374.6 L406.7 374.8 L407.9 375.0 L409.0 374.4 L410.1 374.0 L411.3 373.9 L412.4 375.3 L413.5 376.2 L414.7 376.8 L415.8 376.8 L417.0 376.6 L418.1 376.6 L419.2 375.6 L420.4 375.3 L421.5 374.9 L422.6 375.0 L423.8 374.9 L424.9 374.8 L426.0 375.1 L427.2 374.9 L428.3 374.4 L429.4 373.3 L430.6 372.4 L431.7 372.0 L432.8 371.9 L434.0 372.4 L435.1 373.1 L436.2 373.8 L437.4 373.6 L438.5 373.1 L439.6 372.0 L440.8 371.7 L441.9 371.1 L443.0 371.1 L444.2 370.4 L445.3 369.9 L446.5 368.8"/>
<path stroke="#00e650" stroke-width="3.2" d="M106.1 380.2 L107.2 379.4 L108.4 378.9 L109.5 378.7 L110.6 378.8 L111.8 379.4 L112.9 380.4 L114.0 381.3 L115.2 382.1 L116.3 383.0 L117.4 383.4 L118.6 383.2 L119.7 382.9 L120.8 381.3 L122.0 377.9 L124.3 362.6 L126.5 348.8 L128.8 336.8 L131.1 328.1 L133.3 320.8 L135.6 315.4 L137.9 312.5 L140.1 311.8 L142.4 313.1 L144.7 317.2 L146.9 322.6 L149.2 325.9 L151.5 326.7 L153.7 325.0 L156.0 323.2 L158.3 322.8 L160.6 324.3 L162.8 327.2 L165.1 330.7 L167.4 335.0 L169.6 340.2 L171.9 345.5 L174.2 349.8 L176.4 353.3 L178.7 353.8 L181.0 354.1 L183.2 354.4 L185.5 355.6 L187.8 357.7 L190.1 359.8 L192.3 361.8 L194.6 363.7 L196.9 365.4 L199.1 367.3 L201.4 368.2 L203.7 368.1 L205.9 367.9 L208.2 367.7 L209.3 367.5 L210.5 367.2 L211.6 366.9 L212.7 366.5 L213.9 366.0 L215.0 365.5 L216.1 365.2 L217.3 364.9 L218.4 364.6 L219.6 364.1 L220.7 363.2 L221.8 361.9 L223.0 360.6 L224.1 359.5 L225.2 358.9 L226.4 358.6 L227.5 358.7 L228.6 358.4 L229.8 357.9 L230.9 356.8 L232.0 355.5 L233.2 354.6 L234.3 353.9 L235.4 353.8 L236.6 352.6 L237.7 351.7 L238.8 350.5 L240.0 350.0 L241.1 349.7 L242.2 348.9 L243.4 348.6 L244.5 347.9 L245.6 347.8 L246.8 346.8 L247.9 345.5 L249.0 344.3 L250.2 343.6 L251.3 343.5 L252.5 343.3 L253.6 343.7 L254.7 344.0 L255.9 344.0 L257.0 343.4 L258.1 343.3 L259.3 343.4 L260.4 343.3 L261.5 342.5 L262.7 341.8 L263.8 341.7 L264.9 341.9 L266.1 341.5 L267.2 340.5 L268.3 339.8 L269.5 339.8 L270.6 340.2 L271.7 339.5 L272.9 338.9 L274.0 338.0 L275.1 338.7 L276.3 339.1 L277.4 339.7 L278.5 339.9 L279.7 340.3 L280.8 341.0 L281.9 341.7 L283.1 342.5 L284.2 343.1 L285.4 343.8 L286.5 344.0 L287.6 344.3 L288.8 344.4 L289.9 344.5 L291.0 344.6 L292.2 344.8 L293.3 345.2 L294.4 345.7 L295.6 346.2 L296.7 346.8 L297.8 347.7 L299.0 348.3 L300.1 349.2 L301.2 350.2 L302.4 351.5 L303.5 352.6 L304.6 352.3 L305.8 352.2 L306.9 351.7 L308.0 352.3 L309.2 352.6 L310.3 353.2 L311.4 353.9 L312.6 354.2 L313.7 353.7 L314.8 352.8 L316.0 352.6 L317.1 353.0 L318.3 353.9 L319.4 354.5 L320.5 355.2 L321.7 356.0 L322.8 357.0 L323.9 357.8 L325.1 358.6 L326.2 359.1 L327.3 359.1 L328.5 359.0 L329.6 359.1 L330.7 359.8 L331.9 360.7 L333.0 361.6 L334.1 361.9 L335.3 361.7 L336.4 361.6 L337.5 362.2 L338.7 363.2 L339.8 364.1 L340.9 364.9 L342.1 365.2 L343.2 365.6 L344.3 365.1 L345.5 364.9 L346.6 364.5 L347.7 365.0 L348.9 366.0 L350.0 367.1 L351.2 367.3 L352.3 367.0 L353.4 367.3 L354.6 367.9 L355.7 368.2 L356.8 367.3 L358.0 366.6 L359.1 366.1 L360.2 366.7 L361.4 367.4 L362.5 368.8 L363.6 370.3 L364.8 371.2 L365.9 371.0 L367.0 369.7 L368.2 368.8 L369.3 368.9 L370.4 369.0 L371.6 369.3 L372.7 368.3 L373.8 368.7 L375.0 368.7 L376.1 369.6 L377.2 369.4 L378.4 370.0 L379.5 370.5 L380.6 371.6 L381.8 372.1 L382.9 372.8 L384.1 373.7 L385.2 374.7 L386.3 374.7 L387.5 373.8 L388.6 372.4 L389.7 371.7 L390.9 372.2 L392.0 373.7 L393.1 375.5 L394.3 376.4 L395.4 376.1 L396.5 375.3 L397.7 374.7 L398.8 374.9 L399.9 375.0 L401.1 374.8 L402.2 374.7 L403.3 375.2 L404.5 376.3 L405.6 376.7 L406.7 376.5 L407.9 376.1 L409.0 375.8 L410.1 375.9 L411.3 375.7 L412.4 376.3 L413.5 376.7 L414.7 377.3 L415.8 377.4 L417.0 377.2 L418.1 377.0 L419.2 376.9 L420.4 377.3 L421.5 377.7 L422.6 377.8 L423.8 377.2 L424.9 377.0 L426.0 376.1 L427.2 376.0 L428.3 376.1 L429.4 377.7 L430.6 378.6 L431.7 378.1 L432.8 376.4 L434.0 375.0 L435.1 374.4 L436.2 375.0 L437.4 375.6 L438.5 376.7 L439.6 376.8 L440.8 375.9 L441.9 374.0 L443.0 372.1 L444.2 370.9 L445.3 369.9 L446.5 368.9"/>
<path stroke="#ff9a22" stroke-width="2.5" d="M106.1 378.1 L107.2 376.9 L108.4 376.3 L109.5 376.1 L110.6 376.3 L111.8 377.7 L112.9 379.7 L114.0 381.3 L115.2 382.2 L116.3 383.0 L117.4 383.4 L118.6 383.3 L119.7 383.2 L120.8 381.8 L122.0 378.8 L124.3 365.9 L126.5 354.2 L128.8 344.0 L131.1 336.6 L133.3 330.4 L135.6 325.8 L137.9 323.3 L140.1 322.7 L142.4 323.4 L144.7 325.6 L146.9 328.3 L149.2 330.0 L151.5 330.3 L153.7 328.2 L156.0 326.0 L158.3 325.4 L160.6 326.9 L162.8 329.6 L165.1 333.1 L167.4 337.2 L169.6 342.2 L171.9 347.3 L174.2 351.5 L176.4 354.8 L178.7 355.1 L181.0 355.3 L183.2 355.5 L185.5 356.3 L187.8 357.7 L190.1 359.3 L192.3 361.0 L194.6 362.8 L196.9 364.2 L199.1 365.5 L201.4 366.1 L203.7 366.1 L205.9 366.1 L208.2 366.1 L209.3 366.0 L210.5 366.0 L211.6 365.8 L212.7 365.5 L213.9 365.0 L215.0 364.7 L216.1 364.6 L217.3 364.5 L218.4 364.2 L219.6 363.5 L220.7 362.8 L221.8 361.9 L223.0 361.1 L224.1 360.0 L225.2 359.1 L226.4 358.4 L227.5 358.1 L228.6 357.7 L229.8 357.7 L230.9 357.6 L232.0 357.3 L233.2 356.1 L234.3 355.2 L235.4 354.7 L236.6 355.2 L237.7 355.1 L238.8 354.3 L240.0 352.8 L241.1 351.2 L242.2 350.3 L243.4 350.1 L244.5 350.4 L245.6 350.7 L246.8 351.1 L247.9 351.3 L249.0 350.8 L250.2 349.6 L251.3 348.5 L252.5 348.6 L253.6 349.6 L254.7 350.3 L255.9 350.1 L257.0 349.6 L258.1 349.2 L259.3 349.3 L260.4 348.5 L261.5 347.9 L262.7 346.5 L263.8 346.4 L264.9 346.3 L266.1 347.3 L267.2 347.4 L268.3 347.2 L269.5 346.9 L270.6 347.3 L271.7 348.1 L272.9 348.3 L274.0 348.4 L275.1 348.0 L276.3 347.7 L277.4 347.4 L278.5 347.8 L279.7 348.2 L280.8 348.3 L281.9 348.2 L283.1 348.1 L284.2 348.1 L285.4 348.2 L286.5 348.3 L287.6 348.9 L288.8 349.8 L289.9 350.9 L291.0 351.5 L292.2 352.0 L293.3 352.6 L294.4 353.5 L295.6 354.3 L296.7 354.7 L297.8 355.1 L299.0 355.2 L300.1 354.7 L301.2 354.4 L302.4 354.4 L303.5 355.5 L304.6 356.3 L305.8 356.9 L306.9 356.9 L308.0 356.8 L309.2 357.3 L310.3 357.7 L311.4 358.6 L312.6 358.8 L313.7 359.0 L314.8 358.2 L316.0 357.2 L317.1 357.0 L318.3 357.6 L319.4 358.8 L320.5 358.8 L321.7 359.2 L322.8 359.6 L323.9 360.4 L325.1 361.0 L326.2 361.3 L327.3 362.1 L328.5 362.5 L329.6 362.9 L330.7 363.6 L331.9 364.6 L333.0 365.9 L334.1 366.3 L335.3 366.5 L336.4 365.9 L337.5 365.9 L338.7 366.0 L339.8 366.6 L340.9 366.6 L342.1 366.8 L343.2 367.0 L344.3 367.9 L345.5 368.1 L346.6 368.2 L347.7 367.7 L348.9 367.6 L350.0 368.0 L351.2 369.5 L352.3 370.7 L353.4 371.0 L354.6 370.0 L355.7 369.3 L356.8 369.1 L358.0 369.6 L359.1 370.2 L360.2 371.0 L361.4 371.6 L362.5 372.2 L363.6 371.7 L364.8 371.8 L365.9 371.1 L367.0 371.7 L368.2 371.9 L369.3 373.2 L370.4 373.8 L371.6 374.7 L372.7 374.7 L373.8 374.3 L375.0 373.2 L376.1 372.9 L377.2 373.2 L378.4 374.2 L379.5 374.7 L380.6 374.8 L381.8 374.0 L382.9 373.0 L384.1 372.5 L385.2 372.2 L386.3 372.3 L387.5 372.0 L388.6 371.4 L389.7 370.7 L390.9 369.7 L392.0 369.3 L393.1 368.9 L394.3 369.8 L395.4 370.5 L396.5 370.8 L397.7 370.3 L398.8 369.9 L399.9 369.8 L401.1 369.7 L402.2 369.7 L403.3 369.8 L404.5 370.0 L405.6 370.0 L406.7 370.1 L407.9 369.9 L409.0 370.2 L410.1 371.0 L411.3 372.2 L412.4 373.1 L413.5 373.9 L414.7 374.1 L415.8 374.4 L417.0 373.7 L418.1 373.8 L419.2 373.7 L420.4 374.5 L421.5 374.4 L422.6 375.4 L423.8 375.8 L424.9 376.6 L426.0 376.3 L427.2 376.0 L428.3 375.6 L429.4 375.2 L430.6 375.2 L431.7 375.5 L432.8 376.3 L434.0 376.6 L435.1 376.0 L436.2 375.0 L437.4 374.7 L438.5 375.3 L439.6 375.9 L440.8 375.4 L441.9 374.9 L443.0 374.8 L444.2 375.3 L445.3 375.3 L446.5 375.0"/>
<path stroke="#1b3a9e" stroke-width="2.5" d="M106.1 378.1 L107.2 376.9 L108.4 376.3 L109.5 376.1 L110.6 376.3 L111.8 377.7 L112.9 379.7 L114.0 381.3 L115.2 382.2 L116.3 383.0 L117.4 383.4 L118.6 383.3 L119.7 383.1 L120.8 381.5 L122.0 378.4 L124.3 364.3 L126.5 351.6 L128.8 340.6 L131.1 332.6 L133.3 325.9 L135.6 320.9 L137.9 318.2 L140.1 317.5 L142.4 318.4 L144.7 321.3 L146.9 325.0 L149.2 327.3 L151.5 327.7 L153.7 325.6 L156.0 323.3 L158.3 322.8 L160.6 324.4 L162.8 327.5 L165.1 331.3 L167.4 335.8 L169.6 341.4 L171.9 347.1 L174.2 351.7 L176.4 355.3 L178.7 355.7 L181.0 355.8 L183.2 356.1 L185.5 356.9 L187.8 358.6 L190.1 360.4 L192.3 361.9 L194.6 363.4 L196.9 364.7 L199.1 366.0 L201.4 366.6 L203.7 366.6 L205.9 366.6 L208.2 366.6 L209.3 366.5 L210.5 366.3 L211.6 365.9 L212.7 365.6 L213.9 365.2 L215.0 364.9 L216.1 364.5 L217.3 364.1 L218.4 363.5 L219.6 362.7 L220.7 362.0 L221.8 361.2 L223.0 360.6 L224.1 359.8 L225.2 359.3 L226.4 358.6 L227.5 357.8 L228.6 356.7 L229.8 355.9 L230.9 355.2 L232.0 354.7 L233.2 354.2 L234.3 353.8 L235.4 353.1 L236.6 352.2 L237.7 351.0 L238.8 350.5 L240.0 350.2 L241.1 350.5 L242.2 350.1 L243.4 349.9 L244.5 349.7 L245.6 350.1 L246.8 349.3 L247.9 347.5 L249.0 345.4 L250.2 344.2 L251.3 344.1 L252.5 344.2 L253.6 344.6 L254.7 344.7 L255.9 344.6 L257.0 344.6 L258.1 344.7 L259.3 344.6 L260.4 344.4 L261.5 344.3 L262.7 344.4 L263.8 343.4 L264.9 342.6 L266.1 342.1 L267.2 342.6 L268.3 342.5 L269.5 342.4 L270.6 342.2 L271.7 342.5 L272.9 342.6 L274.0 343.1 L275.1 343.6 L276.3 344.6 L277.4 344.8 L278.5 344.3 L279.7 342.8 L280.8 342.2 L281.9 342.5 L283.1 343.6 L284.2 344.7 L285.4 345.9 L286.5 347.0 L287.6 347.3 L288.8 347.3 L289.9 347.9 L291.0 348.5 L292.2 349.0 L293.3 348.5 L294.4 348.5 L295.6 348.3 L296.7 349.1 L297.8 349.8 L299.0 350.3 L300.1 350.4 L301.2 350.0 L302.4 349.9 L303.5 350.1 L304.6 350.9 L305.8 352.2 L306.9 353.4 L308.0 354.2 L309.2 354.9 L310.3 355.5 L311.4 356.2 L312.6 356.1 L313.7 356.5 L314.8 357.0 L316.0 358.1 L317.1 358.6 L318.3 359.4 L319.4 359.9 L320.5 360.7 L321.7 360.6 L322.8 360.8 L323.9 361.1 L325.1 361.0 L326.2 360.3 L327.3 359.8 L328.5 360.6 L329.6 361.7 L330.7 362.7 L331.9 363.4 L333.0 364.1 L334.1 364.7 L335.3 365.1 L336.4 365.3 L337.5 365.5 L338.7 365.4 L339.8 365.3 L340.9 365.1 L342.1 365.3 L343.2 365.4 L344.3 366.6 L345.5 368.1 L346.6 369.5 L347.7 369.6 L348.9 369.2 L350.0 368.7 L351.2 368.2 L352.3 367.5 L353.4 367.8 L354.6 368.5 L355.7 369.6 L356.8 369.9 L358.0 369.5 L359.1 369.8 L360.2 370.2 L361.4 371.0 L362.5 371.5 L363.6 371.7 L364.8 372.4 L365.9 372.6 L367.0 373.4 L368.2 373.2 L369.3 372.8 L370.4 372.3 L371.6 372.1 L372.7 372.7 L373.8 373.2 L375.0 374.1 L376.1 374.1 L377.2 374.3 L378.4 373.2 L379.5 372.2 L380.6 371.7 L381.8 372.1 L382.9 373.3 L384.1 373.8 L385.2 374.2 L386.3 373.7 L387.5 373.3 L388.6 373.1 L389.7 373.3 L390.9 374.1 L392.0 374.8 L393.1 375.5 L394.3 375.8 L395.4 376.0 L396.5 376.2 L397.7 376.2 L398.8 376.1 L399.9 376.2 L401.1 376.0 L402.2 375.9 L403.3 376.0 L404.5 376.6 L405.6 377.2 L406.7 377.0 L407.9 376.8 L409.0 376.5 L410.1 376.5 L411.3 376.1 L412.4 375.8 L413.5 375.2 L414.7 374.6 L415.8 373.7 L417.0 373.2 L418.1 372.9 L419.2 373.1 L420.4 373.4 L421.5 374.1 L422.6 374.3 L423.8 374.0 L424.9 373.0 L426.0 372.8 L427.2 372.9 L428.3 372.9 L429.4 372.2 L430.6 371.8 L431.7 372.1 L432.8 372.4 L434.0 372.9 L435.1 372.4 L436.2 372.2 L437.4 371.6 L438.5 371.7 L439.6 371.7 L440.8 371.8 L441.9 371.9 L443.0 371.4 L444.2 371.1 L445.3 370.6 L446.5 371.1"/>
<path stroke="#ff0a0a" stroke-width="2.4" d="M106.1 376.6 L107.2 375.3 L108.4 374.7 L109.5 374.5 L110.6 374.7 L111.8 376.3 L112.9 378.5 L114.0 380.2 L115.2 381.4 L116.3 382.3 L117.4 382.8 L118.6 383.0 L119.7 383.1 L120.8 381.6 L122.0 378.4 L124.3 364.5 L126.5 351.9 L128.8 340.9 L131.1 333.0 L133.3 326.3 L135.6 321.3 L137.9 318.7 L140.1 318.0 L142.4 319.0 L144.7 321.8 L146.9 325.5 L149.2 327.8 L151.5 328.3 L153.7 326.4 L156.0 324.3 L158.3 323.9 L160.6 325.4 L162.8 328.2 L165.1 331.8 L167.4 336.0 L169.6 341.1 L171.9 346.9 L174.2 353.5 L176.4 354.4 L178.7 354.6 L181.0 354.8 L183.2 355.0 L185.5 355.9 L187.8 357.9 L190.1 359.8 L192.3 361.4 L194.6 362.8 L196.9 364.2 L199.1 365.7 L201.4 366.6 L203.7 367.1 L205.9 367.1 L208.2 366.6 L209.3 366.4 L210.5 366.1 L211.6 366.0 L212.7 365.8 L213.9 365.3 L215.0 364.6 L216.1 363.9 L217.3 363.5 L218.4 362.9 L219.6 362.3 L220.7 361.5 L221.8 361.3 L223.0 360.8 L224.1 360.5 L225.2 359.8 L226.4 359.1 L227.5 358.2 L228.6 357.2 L229.8 355.9 L230.9 354.7 L232.0 353.8 L233.2 353.3 L234.3 352.4 L235.4 351.3 L236.6 349.8 L237.7 348.8 L238.8 348.2 L240.0 348.1 L241.1 348.1 L242.2 347.4 L243.4 346.8 L244.5 345.6 L245.6 345.1 L246.8 344.4 L247.9 344.8 L249.0 344.9 L250.2 345.1 L251.3 344.5 L252.5 344.2 L253.6 343.7 L254.7 343.4 L255.9 343.3 L257.0 343.6 L258.1 344.6 L259.3 346.0 L260.4 347.2 L261.5 347.5 L262.7 346.9 L263.8 346.5 L264.9 346.6 L266.1 347.0 L267.2 347.2 L268.3 347.4 L269.5 347.7 L270.6 348.3 L271.7 349.0 L272.9 350.0 L274.0 351.1 L275.1 352.2 L276.3 352.6 L277.4 351.3 L278.5 350.3 L279.7 349.0 L280.8 349.2 L281.9 348.9 L283.1 349.6 L284.2 349.1 L285.4 349.2 L286.5 348.1 L287.6 348.2 L288.8 348.3 L289.9 349.8 L291.0 350.4 L292.2 350.6 L293.3 350.0 L294.4 349.6 L295.6 349.1 L296.7 349.0 L297.8 349.3 L299.0 349.8 L300.1 350.1 L301.2 349.8 L302.4 350.0 L303.5 350.5 L304.6 351.5 L305.8 352.4 L306.9 352.8 L308.0 353.2 L309.2 353.1 L310.3 353.4 L311.4 353.0 L312.6 353.3 L313.7 353.6 L314.8 354.4 L316.0 354.3 L317.1 354.0 L318.3 354.0 L319.4 355.2 L320.5 356.8 L321.7 358.3 L322.8 359.2 L323.9 360.1 L325.1 361.1 L326.2 362.1 L327.3 363.1 L328.5 363.8 L329.6 365.1 L330.7 365.8 L331.9 366.4 L333.0 366.3 L334.1 367.1 L335.3 366.9 L336.4 366.2 L337.5 364.7 L338.7 364.8 L339.8 366.2 L340.9 367.7 L342.1 368.1 L343.2 367.6 L344.3 367.3 L345.5 367.2 L346.6 367.4 L347.7 367.2 L348.9 367.0 L350.0 367.1 L351.2 367.5 L352.3 368.1 L353.4 368.5 L354.6 368.6 L355.7 369.1 L356.8 368.9 L358.0 369.5 L359.1 369.8 L360.2 370.8 L361.4 370.5 L362.5 370.4 L363.6 370.1 L364.8 370.5 L365.9 370.9 L367.0 371.2 L368.2 371.9 L369.3 372.5 L370.4 372.9 L371.6 372.7 L372.7 372.1 L373.8 371.1 L375.0 369.7 L376.1 368.4 L377.2 367.7 L378.4 367.7 L379.5 368.7 L380.6 369.9 L381.8 370.8 L382.9 370.4 L384.1 369.8 L385.2 368.9 L386.3 368.5 L387.5 368.0 L388.6 368.3 L389.7 369.0 L390.9 370.1 L392.0 371.1 L393.1 372.0 L394.3 372.7 L395.4 373.5 L396.5 373.9 L397.7 374.2 L398.8 373.4 L399.9 372.6 L401.1 372.7 L402.2 374.3 L403.3 376.0 L404.5 376.4 L405.6 375.7 L406.7 375.2 L407.9 374.8 L409.0 375.3 L410.1 375.6 L411.3 375.7 L412.4 375.0 L413.5 374.1 L414.7 373.3 L415.8 373.1 L417.0 373.2 L418.1 373.8 L419.2 374.0 L420.4 373.3 L421.5 372.3 L422.6 371.5 L423.8 371.9 L424.9 371.9 L426.0 372.1 L427.2 372.2 L428.3 372.7 L429.4 373.9 L430.6 374.7 L431.7 375.8 L432.8 376.5 L434.0 378.0 L435.1 379.3 L436.2 380.2 L437.4 378.9 L438.5 376.9 L439.6 375.0 L440.8 374.4 L441.9 374.8 L443.0 374.5 L444.2 374.2 L445.3 373.1 L446.5 371.8"/>
</g>
<g stroke="#000" stroke-width="2" fill="none" stroke-linecap="butt">
<path d="M106.1 17.6 V389.9"/>
<path d="M100.1 384.4 H447.5"/>
<path d="M100.1 332.1 H106.1"/>
<path d="M100.1 279.9 H106.1"/>
<path d="M100.1 227.6 H106.1"/>
<path d="M100.1 175.4 H106.1"/>
<path d="M100.1 123.1 H106.1"/>
<path d="M100.1 70.8 H106.1"/>
<path d="M100.1 18.6 H106.1"/>
<path d="M219.6 384.4 V389.9"/>
<path d="M333.0 384.4 V389.9"/>
<path d="M446.5 384.4 V389.9"/>
</g>
<g font-family='"Liberation Sans", Arial, sans-serif' font-size="17.8" fill="#000" class="t">
<text x="90.6" y="390.8" text-anchor="end">0</text>
<text x="90.6" y="338.4" text-anchor="end">100</text>
<text x="90.6" y="286.0" text-anchor="end">200</text>
<text x="90.6" y="233.6" text-anchor="end">300</text>
<text x="90.6" y="181.2" text-anchor="end">400</text>
<text x="90.6" y="128.8" text-anchor="end">500</text>
<text x="90.6" y="76.4" text-anchor="end">600</text>
<text x="90.6" y="24.1" text-anchor="end">700</text>
<text x="106.1" y="412.6" text-anchor="middle">350</text>
<text x="219.6" y="412.6" text-anchor="middle">450</text>
<text x="333.0" y="412.6" text-anchor="middle">550</text>
<text x="446.5" y="412.6" text-anchor="middle">650</text>
</g>
<path d="M189.7 49.7 V145.8" stroke="#000" stroke-width="1.7" fill="none"/><path d="M189.7 171.3 L181.0 138.5 L189.7 143.8 L198.4 138.5 Z" fill="#000"/>
<path d="M278.1 291.0 V335.0" stroke="#000" stroke-width="1.7" fill="none"/><path d="M278.1 264.3 L269.4 298.3 L278.1 293.0 L286.8 298.3 Z" fill="#000"/>
<g>
<rect x="221.5" y="67.0" width="139.6" height="190.5" fill="#000"/>
<g clip-path="url(#clipA)">
<rect x="231.5" y="68.0" width="56.0" height="190.5" fill="#010414" filter="url(#b2)"/>
<path d="M232.0 69.0 V257.5" stroke="#0a1660" stroke-width="1.6" opacity="0.8" fill="none" filter="url(#b1)"/>
<path d="M287.0 69.0 V257.5" stroke="#0a1660" stroke-width="1.6" opacity="0.8" fill="none" filter="url(#b1)"/>
<rect x="234.0" y="245.0" width="56.5" height="12.0" fill="#1c38be" filter="url(#b1)"/>
<path d="M237.0 99.3 Q260.5 107.7 284.0 99.3 V246.0 H237.0 Z" fill="url(#gAl)" filter="url(#b1)"/>
<path d="M237.0 98.8 Q260.5 106.7 284.0 98.8 L284.0 101.9 Q260.5 111.1 237.0 101.9 Z" fill="#2c60ea" filter="url(#b1)"/>
<rect x="296.3" y="68.0" width="56.7" height="190.5" fill="#011211" filter="url(#b2)"/>
<path d="M296.8 69.0 V257.5" stroke="#0a4a4a" stroke-width="1.6" opacity="0.8" fill="none" filter="url(#b1)"/>
<path d="M352.5 69.0 V257.5" stroke="#0a4a4a" stroke-width="1.6" opacity="0.8" fill="none" filter="url(#b1)"/>
<path d="M299.5 104.0 V72.0 H346.5 V104.0" stroke="#0c5858" stroke-width="1.4" opacity="0.85" fill="none" filter="url(#b1)"/>
<rect x="344.0" y="107.0" width="8.0" height="152.5" fill="#054a48" filter="url(#b1)"/>
<rect x="296.5" y="241.0" width="54.5" height="16.0" fill="#0ea49c" filter="url(#b1)"/>
<path d="M296.5 105.0 Q320.2 113.0 344.0 105.0 V242.0 H296.5 Z" fill="url(#gAr)" filter="url(#b1)"/>
<path d="M296.5 104.5 Q320.2 112.0 344.0 104.5 L344.0 107.6 Q320.2 116.4 296.5 107.6 Z" fill="#2eecd8" filter="url(#b1)"/>
</g>
<g font-family='"Liberation Sans", Arial, sans-serif' font-weight="bold" font-size="16.4" fill="#fff">
<text x="248.4" y="93.8" textLength="21.6" lengthAdjust="spacingAndGlyphs">G2</text>
<text x="282.0" y="93.8" textLength="74.5" lengthAdjust="spacingAndGlyphs">G2+Host-1</text>
</g>
</g>
<g font-family='"Liberation Sans", Arial, sans-serif' font-size="17.2" fill="#000" class="t">
<path d="M393.6 84.5 H425.2" stroke="#0a0ab4" stroke-width="3.9" fill="none"/>
<text x="426.8" y="90.7">free G2</text>
<path d="M394.6 113.0 H425.2" stroke="#c4720e" stroke-width="2.4" fill="none"/>
<text x="426.8" y="119.2">0.1</text>
<path d="M394.6 141.4 H425.2" stroke="#15286e" stroke-width="2.4" fill="none"/>
<text x="426.8" y="147.6">0.2</text>
<path d="M394.6 169.8 H425.2" stroke="#1e5a1e" stroke-width="2.4" fill="none"/>
<text x="426.8" y="176.0">0.3</text>
<path d="M394.6 198.3 H425.2" stroke="#1f60d2" stroke-width="2.4" fill="none"/>
<text x="426.8" y="204.5">0.4</text>
<path d="M394.6 226.8 H425.2" stroke="#00e650" stroke-width="3.4" fill="none"/>
<text x="426.8" y="232.9">0.5</text>
<path d="M394.6 255.2 H425.2" stroke="#ff9a22" stroke-width="2.4" fill="none"/>
<text x="426.8" y="261.4">0.7</text>
<path d="M394.6 283.6 H425.2" stroke="#1b3a9e" stroke-width="2.4" fill="none"/>
<text x="426.8" y="289.8">0.9</text>
<path d="M394.6 312.1 H425.2" stroke="#ff0a0a" stroke-width="2.4" fill="none"/>
<text x="426.8" y="318.3">1.1</text>
<text x="452.0" y="318.3" font-family='"Liberation Serif", "Times New Roman", serif' font-size="23" style="stroke-width:.3px">equiv</text>
</g>
<g fill="#000" class="t">
<text transform="translate(49 361) rotate(-90)" font-family='"Liberation Sans", Arial, sans-serif' font-size="23.5" style="stroke-width:.8px">Fluorescence Intensity (a.u.)</text>
<text x="170.3" y="443.6" font-family='"Liberation Sans", Arial, sans-serif' font-size="23.2" style="stroke-width:.8px">Wavelength (nm)</text>
</g>
<text x="34.6" y="439.6" font-family='"Liberation Serif", "Times New Roman", serif' font-size="28.5" letter-spacing="0.9" fill="#000" stroke="#000" stroke-width="0.3">(a)</text>
</g>
<g id="chart-b">
<g fill="none" stroke-linejoin="round" stroke-linecap="round">
<path stroke="#0000ff" stroke-width="4.2" d="M586.0 381.9 L586.6 381.5 L587.1 381.2 L587.7 381.0 L588.3 380.9 L588.9 380.9 L589.4 380.8 L590.0 380.8 L590.6 380.9 L591.2 381.2 L591.7 381.6 L592.3 382.1 L592.9 382.6 L593.5 383.1 L594.0 383.4 L594.6 383.8 L595.2 384.1 L595.8 384.4 L596.3 384.7 L596.9 384.9 L597.5 385.0 L598.1 384.4 L598.6 382.9 L599.2 380.7 L599.8 378.1 L600.4 374.5 L600.9 369.2 L601.5 362.3 L602.1 353.9 L602.6 340.7 L603.2 321.8 L603.8 300.7 L604.4 281.4 L604.9 264.3 L605.5 247.6 L606.1 231.4 L606.7 215.8 L607.2 200.6 L607.8 185.7 L608.4 171.7 L609.0 158.9 L609.5 147.4 L610.1 136.9 L610.7 127.0 L611.3 117.4 L611.8 108.1 L612.4 99.2 L613.0 90.7 L613.6 82.9 L614.1 75.5 L614.7 68.5 L615.3 62.2 L615.8 57.0 L616.4 52.6 L617.0 48.6 L617.6 45.3 L618.1 43.2 L618.7 41.9 L619.3 40.8 L619.9 40.0 L620.4 39.8 L621.0 40.0 L621.6 40.8 L622.2 41.9 L622.7 43.1 L623.3 44.8 L623.9 47.4 L624.5 50.2 L625.0 53.1 L625.6 56.2 L626.2 59.7 L626.8 63.2 L627.3 66.3 L627.9 68.7 L628.5 70.7 L629.0 72.6 L629.6 74.4 L630.2 75.8 L630.8 76.7 L631.3 76.9 L631.9 75.7 L632.5 73.4 L633.1 70.5 L633.6 67.6 L634.2 64.7 L634.8 61.2 L635.4 57.6 L635.9 54.7 L636.5 52.9 L637.1 51.4 L637.7 50.3 L638.2 49.7 L638.8 50.1 L639.4 51.7 L640.0 54.1 L640.5 56.6 L641.1 59.5 L641.7 63.1 L642.3 67.4 L642.8 72.1 L643.4 77.2 L644.0 82.3 L644.5 87.5 L645.1 93.1 L645.7 98.9 L646.3 105.1 L646.8 111.5 L647.4 118.2 L648.0 125.2 L648.6 132.3 L649.1 139.8 L649.7 148.2 L650.3 157.0 L650.9 165.9 L651.4 174.6 L652.0 182.6 L652.6 190.1 L653.2 197.2 L653.7 204.1 L654.3 210.6 L654.9 216.6 L655.5 222.5 L656.0 228.4 L656.6 233.4 L657.2 236.4 L657.8 238.0 L658.3 239.3 L658.9 240.4 L659.5 241.3 L660.0 242.0 L660.6 242.7 L661.2 243.3 L661.8 243.9 L662.3 244.6 L662.9 245.4 L663.5 246.3 L664.1 247.4 L664.6 248.7 L665.2 250.0 L665.8 251.5 L666.4 253.0 L666.9 254.6 L667.5 256.4 L668.1 258.3 L668.7 260.3 L669.2 262.6 L669.8 265.0 L670.4 267.6 L671.0 270.4 L671.5 274.1 L672.1 279.1 L672.7 284.7 L673.2 290.6 L673.8 296.3 L674.4 301.3 L675.0 305.9 L675.5 310.4 L676.1 314.8 L676.7 318.8 L677.3 322.4 L677.8 325.4 L678.4 327.9 L679.0 330.3 L679.6 332.6 L680.1 334.8 L680.7 336.7 L681.3 338.5 L681.9 340.1 L682.4 341.5 L683.0 342.7 L683.6 343.7 L684.2 344.5 L684.7 345.2 L685.3 345.8 L685.9 346.4 L686.5 346.9 L687.0 347.4 L687.6 347.8 L688.2 348.3 L688.7 348.7 L689.3 349.1 L690.5 350.0 L691.6 350.8 L692.8 351.6 L693.9 352.4 L695.1 353.3 L696.2 354.2 L697.4 355.1 L698.5 355.9 L699.7 356.7 L700.8 357.6 L701.9 358.4 L703.1 359.4 L704.2 360.1 L705.4 360.9 L706.5 361.7 L707.7 362.8 L708.8 363.7 L710.0 364.4 L711.1 365.3 L712.3 366.2 L713.4 367.1 L714.6 367.5 L715.7 367.4 L716.9 366.8 L718.0 366.4 L719.2 366.9 L720.3 367.9 L721.5 369.0 L722.6 369.3 L723.8 369.3 L724.9 369.6 L726.1 370.2 L727.2 371.1 L728.4 371.6 L729.5 372.1 L730.6 372.0 L731.8 371.6 L732.9 371.7 L734.1 372.0 L735.2 372.9 L736.4 373.0 L737.5 373.1 L738.7 373.2 L739.8 373.4 L741.0 373.6 L742.1 373.3 L743.3 373.4 L744.4 373.5 L745.6 373.6 L746.7 373.2 L747.9 372.7 L749.0 372.0 L750.2 371.6 L751.3 371.3 L752.5 371.7 L753.6 372.6 L754.8 373.5 L755.9 374.4 L757.1 374.7 L758.2 374.8 L759.3 374.6 L760.5 374.7 L761.6 374.7 L762.8 374.9 L763.9 374.8 L765.1 374.5 L766.2 374.1 L767.4 374.2 L768.5 374.8 L769.7 375.2 L770.8 375.0 L772.0 374.3 L773.1 373.4 L774.3 372.8 L775.4 372.5 L776.6 372.7 L777.7 373.2 L778.9 373.2 L780.0 373.1 L781.2 372.6 L782.3 372.4 L783.5 372.0 L784.6 371.9 L785.8 372.4 L786.9 373.5 L788.0 374.6 L789.2 375.2 L790.3 375.3 L791.5 375.6 L792.6 376.3 L793.8 377.1 L794.9 377.6 L796.1 378.0 L797.2 378.0 L798.4 378.1 L799.5 378.0 L800.7 378.0 L801.8 378.1 L803.0 378.3 L804.1 378.6 L805.3 378.7 L806.4 378.8 L807.6 378.6 L808.7 379.0 L809.9 379.3 L811.0 380.0 L812.2 380.3 L813.3 381.2 L814.5 381.6 L815.6 382.2 L816.7 382.0 L817.9 382.2 L819.0 382.2 L820.2 382.2 L821.3 382.1 L822.5 382.4 L823.6 382.7 L824.8 383.1 L825.9 383.0 L827.1 383.0 L828.2 382.6 L829.4 382.5 L830.5 382.4 L831.7 382.9 L832.8 383.5 L834.0 384.1 L835.1 384.5 L836.3 384.6 L837.4 384.5 L838.6 384.2 L839.7 383.6 L840.9 382.9 L842.0 382.5 L843.2 382.8 L844.3 383.7 L845.4 384.0 L846.6 384.0 L847.7 383.4 L848.9 383.2 L850.0 382.9 L851.2 383.1 L852.3 383.6 L853.5 384.6 L854.6 385.4 L855.8 385.5 L856.9 385.3 L858.1 384.6 L859.2 384.2 L860.4 383.4 L861.5 383.3 L862.7 383.0 L863.8 383.4 L865.0 383.3 L866.1 384.0 L867.3 384.0 L868.4 384.0 L869.6 383.6 L870.7 383.6 L871.9 384.0 L873.0 384.2 L874.1 384.2 L875.3 383.9 L876.4 383.7 L877.6 383.1 L878.7 382.8 L879.9 382.7 L881.0 383.3 L882.2 383.6 L883.3 383.7 L884.5 383.6 L885.6 383.8 L886.8 383.5 L887.9 383.1 L889.1 382.8 L890.2 382.8 L891.4 383.1 L892.5 382.9 L893.7 383.1 L894.8 383.2 L896.0 383.7 L897.1 383.9 L898.3 383.8 L899.4 383.7 L900.6 383.9 L901.7 384.4 L902.8 384.5 L904.0 383.9 L905.1 383.0 L906.3 382.5 L907.4 382.6 L908.6 383.0 L909.7 383.0 L910.9 382.7 L912.0 382.5 L913.2 383.0 L914.3 383.8 L915.5 384.5 L916.6 384.4 L917.8 384.1 L918.9 383.5 L920.1 383.6 L921.2 383.3 L922.4 383.2 L923.5 382.6 L924.7 382.5 L925.8 382.4 L927.0 382.1 L928.1 381.4 L929.3 380.7 L930.4 380.1"/>
<path stroke="#96400c" stroke-width="2.5" d="M586.0 381.9 L586.6 381.5 L587.1 381.2 L587.7 381.0 L588.3 380.9 L588.9 380.9 L589.4 380.8 L590.0 380.8 L590.6 380.9 L591.2 381.2 L591.7 381.6 L592.3 382.1 L592.9 382.6 L593.5 383.1 L594.0 383.4 L594.6 383.8 L595.2 384.1 L595.8 384.4 L596.3 384.7 L596.9 384.9 L597.5 385.0 L598.1 384.6 L598.6 383.5 L599.2 381.8 L599.8 379.9 L600.4 377.3 L600.9 373.4 L601.5 368.4 L602.1 362.2 L602.6 352.5 L603.2 338.6 L603.8 323.2 L604.4 309.0 L604.9 296.5 L605.5 284.3 L606.1 272.4 L606.7 260.9 L607.2 249.8 L607.8 238.9 L608.4 228.5 L609.0 219.2 L609.5 210.8 L610.1 203.0 L610.7 195.8 L611.3 188.8 L611.8 182.0 L612.4 175.4 L613.0 169.2 L613.6 163.5 L614.1 158.1 L614.7 152.9 L615.3 148.3 L615.8 144.5 L616.4 141.2 L617.0 138.3 L617.6 135.9 L618.1 134.4 L618.7 133.4 L619.3 132.6 L619.9 132.0 L620.4 131.8 L621.0 132.1 L621.6 132.8 L622.2 133.8 L622.7 134.9 L623.3 136.6 L623.9 138.9 L624.5 141.6 L625.0 144.2 L625.6 147.1 L626.2 150.3 L626.8 153.6 L627.3 156.5 L627.9 158.7 L628.5 160.6 L629.0 162.4 L629.6 164.0 L630.2 165.3 L630.8 166.1 L631.3 166.3 L631.9 165.5 L632.5 163.8 L633.1 161.7 L633.6 159.6 L634.2 157.4 L634.8 154.9 L635.4 152.3 L635.9 150.1 L636.5 148.8 L637.1 147.7 L637.7 146.9 L638.2 146.5 L638.8 146.8 L639.4 147.9 L640.0 149.6 L640.5 151.4 L641.1 153.4 L641.7 156.0 L642.3 159.0 L642.8 162.4 L643.4 165.9 L644.0 169.6 L644.5 173.3 L645.1 177.2 L645.7 181.4 L646.3 185.7 L646.8 190.3 L647.4 195.0 L648.0 199.9 L648.6 205.0 L649.1 210.3 L649.7 216.1 L650.3 222.2 L650.9 228.5 L651.4 234.6 L652.0 240.6 L652.6 246.6 L653.2 253.3 L653.7 260.1 L654.3 266.6 L654.9 272.3 L655.5 276.5 L656.0 278.8 L656.6 279.9 L657.2 280.8 L657.8 281.5 L658.3 282.1 L658.9 282.6 L659.5 283.1 L660.0 283.4 L660.6 283.8 L661.2 284.2 L661.8 284.7 L662.3 285.2 L662.9 285.9 L663.5 286.7 L664.1 287.6 L664.6 288.6 L665.2 289.7 L665.8 291.0 L666.4 292.3 L666.9 293.8 L667.5 295.3 L668.1 296.9 L668.7 298.7 L669.2 300.5 L669.8 302.4 L670.4 304.4 L671.0 306.5 L671.5 309.1 L672.1 312.2 L672.7 315.8 L673.2 319.6 L673.8 323.4 L674.4 327.0 L675.0 330.2 L675.5 332.7 L676.1 334.8 L676.7 336.8 L677.3 338.7 L677.8 340.5 L678.4 342.1 L679.0 343.6 L679.6 345.0 L680.1 346.3 L680.7 347.4 L681.3 348.4 L681.9 349.2 L682.4 350.1 L683.0 350.8 L683.6 351.5 L684.2 352.2 L684.7 352.8 L685.3 353.3 L685.9 353.9 L686.5 354.4 L687.0 354.8 L687.6 355.3 L688.2 355.7 L688.7 356.1 L689.3 356.5 L690.5 357.2 L691.6 357.8 L692.8 358.4 L693.9 359.1 L695.1 359.7 L696.2 360.2 L697.4 360.6 L698.5 361.0 L699.7 361.5 L700.8 361.9 L701.9 362.4 L703.1 362.8 L704.2 363.1 L705.4 363.2 L706.5 363.1 L707.7 362.9 L708.8 363.0 L710.0 363.1 L711.1 363.4 L712.3 363.2 L713.4 362.9 L714.6 362.5 L715.7 362.3 L716.9 362.1 L718.0 362.1 L719.2 362.5 L720.3 363.3 L721.5 363.9 L722.6 363.7 L723.8 363.1 L724.9 362.3 L726.1 361.9 L727.2 361.8 L728.4 361.7 L729.5 361.6 L730.6 361.0 L731.8 360.6 L732.9 360.1 L734.1 360.0 L735.2 360.2 L736.4 360.3 L737.5 360.2 L738.7 359.8 L739.8 359.4 L741.0 358.8 L742.1 358.3 L743.3 357.8 L744.4 357.3 L745.6 356.9 L746.7 357.0 L747.9 357.4 L749.0 357.9 L750.2 358.3 L751.3 358.7 L752.5 358.9 L753.6 358.9 L754.8 358.5 L755.9 358.1 L757.1 358.0 L758.2 358.0 L759.3 358.4 L760.5 358.5 L761.6 358.8 L762.8 358.7 L763.9 359.0 L765.1 359.3 L766.2 359.9 L767.4 360.3 L768.5 360.6 L769.7 360.6 L770.8 360.6 L772.0 360.5 L773.1 360.7 L774.3 360.9 L775.4 361.3 L776.6 361.6 L777.7 361.8 L778.9 361.8 L780.0 361.9 L781.2 362.3 L782.3 362.9 L783.5 363.5 L784.6 363.6 L785.8 363.8 L786.9 364.3 L788.0 364.8 L789.2 364.7 L790.3 364.5 L791.5 364.6 L792.6 365.3 L793.8 365.9 L794.9 366.4 L796.1 366.8 L797.2 367.2 L798.4 367.3 L799.5 367.9 L800.7 368.5 L801.8 369.5 L803.0 370.0 L804.1 370.4 L805.3 370.4 L806.4 370.9 L807.6 371.2 L808.7 371.5 L809.9 371.5 L811.0 371.5 L812.2 371.9 L813.3 372.3 L814.5 372.8 L815.6 372.9 L816.7 373.4 L817.9 373.7 L819.0 374.1 L820.2 374.1 L821.3 374.0 L822.5 374.1 L823.6 374.4 L824.8 374.8 L825.9 375.0 L827.1 375.2 L828.2 375.4 L829.4 375.6 L830.5 376.2 L831.7 376.8 L832.8 377.3 L834.0 377.5 L835.1 377.7 L836.3 377.7 L837.4 377.8 L838.6 377.6 L839.7 377.8 L840.9 378.2 L842.0 378.9 L843.2 379.2 L844.3 379.1 L845.4 378.4 L846.6 377.9 L847.7 377.8 L848.9 378.3 L850.0 379.0 L851.2 379.4 L852.3 379.6 L853.5 379.7 L854.6 379.9 L855.8 380.0 L856.9 379.9 L858.1 379.8 L859.2 379.6 L860.4 379.5 L861.5 379.3 L862.7 379.3 L863.8 379.5 L865.0 379.8 L866.1 379.9 L867.3 379.9 L868.4 379.8 L869.6 379.6 L870.7 379.4 L871.9 379.3 L873.0 379.7 L874.1 379.7 L875.3 380.0 L876.4 380.1 L877.6 380.5 L878.7 380.5 L879.9 380.2 L881.0 380.2 L882.2 380.2 L883.3 380.4 L884.5 380.3 L885.6 380.5 L886.8 380.8 L887.9 381.0 L889.1 380.9 L890.2 380.7 L891.4 381.0 L892.5 381.1 L893.7 381.0 L894.8 380.8 L896.0 380.9 L897.1 381.3 L898.3 381.7 L899.4 381.6 L900.6 381.5 L901.7 381.4 L902.8 381.5 L904.0 381.7 L905.1 381.9 L906.3 382.3 L907.4 382.5 L908.6 382.3 L909.7 382.0 L910.9 381.7 L912.0 381.6 L913.2 381.7 L914.3 381.6 L915.5 381.9 L916.6 381.9 L917.8 382.1 L918.9 381.8 L920.1 381.7 L921.2 381.6 L922.4 382.0 L923.5 382.1 L924.7 382.0 L925.8 381.4 L927.0 380.6 L928.1 379.7 L929.3 378.7 L930.4 378.2"/>
<path stroke="#12153f" stroke-width="2.5" d="M586.0 381.9 L586.6 381.5 L587.1 381.2 L587.7 381.0 L588.3 380.9 L588.9 380.9 L589.4 380.8 L590.0 380.8 L590.6 380.9 L591.2 381.2 L591.7 381.6 L592.3 382.1 L592.9 382.6 L593.5 383.1 L594.0 383.4 L594.6 383.8 L595.2 384.1 L595.8 384.4 L596.3 384.7 L596.9 384.9 L597.5 385.0 L598.1 384.6 L598.6 383.7 L599.2 382.4 L599.8 380.8 L600.4 378.6 L600.9 375.3 L601.5 371.1 L602.1 366.0 L602.6 357.9 L603.2 346.3 L603.8 333.5 L604.4 321.7 L604.9 311.2 L605.5 301.0 L606.1 291.1 L606.7 281.6 L607.2 272.3 L607.8 263.2 L608.4 254.6 L609.0 246.7 L609.5 239.7 L610.1 233.3 L610.7 227.2 L611.3 221.4 L611.8 215.7 L612.4 210.2 L613.0 205.1 L613.6 200.3 L614.1 195.8 L614.7 191.5 L615.3 187.7 L615.8 184.5 L616.4 181.8 L617.0 179.3 L617.6 177.3 L618.1 176.0 L618.7 175.2 L619.3 174.6 L619.9 174.1 L620.4 173.9 L621.0 174.1 L621.6 174.7 L622.2 175.4 L622.7 176.3 L623.3 177.6 L623.9 179.3 L624.5 181.4 L625.0 183.4 L625.6 185.6 L626.2 188.1 L626.8 190.6 L627.3 192.8 L627.9 194.5 L628.5 195.9 L629.0 197.3 L629.6 198.6 L630.2 199.6 L630.8 200.2 L631.3 200.3 L631.9 199.6 L632.5 198.2 L633.1 196.4 L633.6 194.6 L634.2 192.9 L634.8 190.7 L635.4 188.5 L635.9 186.7 L636.5 185.6 L637.1 184.7 L637.7 184.0 L638.2 183.6 L638.8 183.9 L639.4 184.8 L640.0 186.2 L640.5 187.7 L641.1 189.4 L641.7 191.5 L642.3 194.1 L642.8 196.9 L643.4 199.8 L644.0 202.9 L644.5 206.0 L645.1 209.2 L645.7 212.7 L646.3 216.4 L646.8 220.2 L647.4 224.1 L648.0 228.2 L648.6 232.4 L649.1 236.8 L649.7 241.4 L650.3 246.2 L650.9 251.2 L651.4 256.5 L652.0 262.0 L652.6 268.3 L653.2 276.2 L653.7 284.1 L654.3 290.5 L654.9 294.0 L655.5 295.4 L656.0 296.6 L656.6 297.6 L657.2 298.4 L657.8 299.1 L658.3 299.7 L658.9 300.3 L659.5 300.7 L660.0 301.2 L660.6 301.6 L661.2 302.0 L661.8 302.5 L662.3 303.1 L662.9 303.8 L663.5 304.6 L664.1 305.5 L664.6 306.6 L665.2 307.8 L665.8 309.1 L666.4 310.6 L666.9 312.1 L667.5 313.7 L668.1 315.5 L668.7 317.2 L669.2 319.1 L669.8 321.0 L670.4 322.9 L671.0 324.8 L671.5 327.0 L672.1 329.5 L672.7 332.1 L673.2 334.9 L673.8 337.5 L674.4 340.1 L675.0 342.3 L675.5 344.2 L676.1 345.8 L676.7 347.3 L677.3 348.8 L677.8 350.1 L678.4 351.4 L679.0 352.6 L679.6 353.6 L680.1 354.6 L680.7 355.5 L681.3 356.2 L681.9 356.9 L682.4 357.5 L683.0 358.1 L683.6 358.7 L684.2 359.2 L684.7 359.6 L685.3 360.1 L685.9 360.5 L686.5 360.9 L687.0 361.3 L687.6 361.6 L688.2 362.0 L688.7 362.3 L689.3 362.7 L690.5 363.4 L691.6 364.0 L692.8 364.6 L693.9 365.0 L695.1 365.4 L696.2 365.5 L697.4 365.8 L698.5 366.0 L699.7 366.1 L700.8 366.1 L701.9 365.9 L703.1 365.8 L704.2 365.8 L705.4 366.0 L706.5 366.2 L707.7 366.4 L708.8 366.1 L710.0 365.5 L711.1 364.9 L712.3 365.2 L713.4 365.7 L714.6 366.0 L715.7 365.8 L716.9 365.8 L718.0 365.8 L719.2 365.7 L720.3 365.0 L721.5 364.3 L722.6 363.6 L723.8 363.5 L724.9 363.3 L726.1 363.5 L727.2 363.4 L728.4 363.3 L729.5 363.0 L730.6 362.9 L731.8 362.9 L732.9 362.3 L734.1 362.1 L735.2 361.6 L736.4 361.6 L737.5 361.2 L738.7 361.0 L739.8 360.8 L741.0 361.1 L742.1 361.4 L743.3 361.9 L744.4 361.8 L745.6 361.4 L746.7 360.7 L747.9 360.4 L749.0 360.4 L750.2 360.5 L751.3 360.9 L752.5 361.1 L753.6 361.0 L754.8 360.8 L755.9 360.7 L757.1 360.8 L758.2 360.7 L759.3 361.0 L760.5 361.2 L761.6 361.2 L762.8 361.0 L763.9 361.0 L765.1 361.3 L766.2 361.6 L767.4 361.8 L768.5 361.7 L769.7 361.7 L770.8 361.3 L772.0 361.6 L773.1 361.6 L774.3 362.0 L775.4 362.2 L776.6 362.9 L777.7 363.6 L778.9 363.9 L780.0 364.3 L781.2 364.7 L782.3 365.0 L783.5 365.1 L784.6 365.1 L785.8 365.3 L786.9 365.6 L788.0 366.0 L789.2 366.3 L790.3 366.8 L791.5 366.6 L792.6 366.5 L793.8 366.4 L794.9 367.0 L796.1 367.8 L797.2 368.6 L798.4 368.9 L799.5 369.4 L800.7 369.9 L801.8 370.4 L803.0 370.0 L804.1 369.5 L805.3 369.5 L806.4 370.0 L807.6 370.8 L808.7 371.2 L809.9 371.5 L811.0 371.9 L812.2 372.3 L813.3 372.9 L814.5 373.4 L815.6 373.8 L816.7 373.8 L817.9 373.7 L819.0 373.6 L820.2 373.8 L821.3 374.0 L822.5 374.5 L823.6 375.0 L824.8 375.8 L825.9 376.1 L827.1 376.7 L828.2 376.8 L829.4 377.0 L830.5 376.9 L831.7 377.1 L832.8 376.9 L834.0 376.7 L835.1 376.7 L836.3 377.4 L837.4 378.4 L838.6 378.9 L839.7 379.2 L840.9 379.1 L842.0 378.9 L843.2 378.4 L844.3 378.2 L845.4 378.3 L846.6 378.6 L847.7 378.8 L848.9 379.2 L850.0 379.7 L851.2 380.3 L852.3 380.7 L853.5 380.9 L854.6 380.8 L855.8 380.8 L856.9 380.6 L858.1 380.8 L859.2 380.6 L860.4 380.7 L861.5 380.2 L862.7 379.9 L863.8 379.8 L865.0 380.0 L866.1 380.0 L867.3 380.2 L868.4 380.6 L869.6 381.0 L870.7 381.2 L871.9 380.8 L873.0 380.6 L874.1 380.5 L875.3 380.9 L876.4 381.1 L877.6 381.6 L878.7 381.8 L879.9 381.9 L881.0 381.3 L882.2 380.8 L883.3 380.2 L884.5 380.1 L885.6 380.5 L886.8 381.4 L887.9 382.1 L889.1 382.2 L890.2 381.5 L891.4 381.0 L892.5 381.0 L893.7 381.4 L894.8 381.6 L896.0 381.6 L897.1 381.8 L898.3 381.9 L899.4 382.0 L900.6 381.8 L901.7 381.8 L902.8 381.9 L904.0 382.0 L905.1 382.6 L906.3 382.8 L907.4 383.0 L908.6 382.5 L909.7 382.2 L910.9 382.2 L912.0 382.3 L913.2 382.4 L914.3 382.5 L915.5 382.5 L916.6 382.6 L917.8 382.5 L918.9 382.6 L920.1 382.6 L921.2 382.6 L922.4 382.5 L923.5 382.1 L924.7 381.6 L925.8 381.0 L927.0 380.6 L928.1 380.1 L929.3 379.6 L930.4 378.6"/>
<path stroke="#143414" stroke-width="2.5" d="M586.0 381.9 L586.6 381.5 L587.1 381.2 L587.7 381.0 L588.3 380.9 L588.9 380.9 L589.4 380.8 L590.0 380.8 L590.6 380.9 L591.2 381.2 L591.7 381.6 L592.3 382.1 L592.9 382.6 L593.5 383.1 L594.0 383.4 L594.6 383.8 L595.2 384.1 L595.8 384.4 L596.3 384.7 L596.9 384.9 L597.5 385.0 L598.1 384.8 L598.6 384.1 L599.2 383.1 L599.8 382.0 L600.4 380.5 L600.9 378.2 L601.5 375.2 L602.1 371.6 L602.6 366.0 L603.2 357.8 L603.8 348.7 L604.4 340.4 L604.9 333.1 L605.5 325.9 L606.1 318.9 L606.7 312.2 L607.2 305.7 L607.8 299.2 L608.4 293.2 L609.0 287.7 L609.5 282.8 L610.1 278.2 L610.7 274.0 L611.3 269.9 L611.8 265.9 L612.4 262.0 L613.0 258.4 L613.6 255.0 L614.1 251.8 L614.7 248.8 L615.3 246.1 L615.8 243.9 L616.4 242.0 L617.0 240.2 L617.6 238.8 L618.1 237.9 L618.7 237.4 L619.3 236.9 L619.9 236.6 L620.4 236.4 L621.0 236.6 L621.6 237.0 L622.2 237.7 L622.7 238.4 L623.3 239.4 L623.9 240.8 L624.5 242.5 L625.0 244.2 L625.6 245.9 L626.2 247.9 L626.8 250.0 L627.3 251.8 L627.9 253.2 L628.5 254.3 L629.0 255.4 L629.6 256.4 L630.2 257.2 L630.8 257.7 L631.3 257.9 L631.9 257.5 L632.5 256.7 L633.1 255.7 L633.6 254.7 L634.2 253.7 L634.8 252.4 L635.4 251.2 L635.9 250.2 L636.5 249.6 L637.1 249.1 L637.7 248.7 L638.2 248.5 L638.8 248.7 L639.4 249.3 L640.0 250.2 L640.5 251.3 L641.1 252.4 L641.7 253.9 L642.3 255.6 L642.8 257.5 L643.4 259.5 L644.0 261.5 L644.5 263.6 L645.1 265.8 L645.7 268.2 L646.3 270.7 L646.8 273.2 L647.4 275.9 L648.0 278.7 L648.6 281.6 L649.1 284.6 L649.7 287.9 L650.3 291.5 L650.9 295.0 L651.4 298.5 L652.0 301.7 L652.6 304.7 L653.2 307.6 L653.7 310.3 L654.3 312.9 L654.9 315.3 L655.5 317.7 L656.0 320.0 L656.6 322.0 L657.2 323.3 L657.8 324.1 L658.3 324.7 L658.9 325.3 L659.5 325.7 L660.0 326.1 L660.6 326.4 L661.2 326.8 L661.8 327.1 L662.3 327.5 L662.9 327.9 L663.5 328.4 L664.1 329.0 L664.6 329.7 L665.2 330.6 L665.8 331.5 L666.4 332.4 L666.9 333.5 L667.5 334.6 L668.1 335.8 L668.7 337.0 L669.2 338.2 L669.8 339.5 L670.4 340.8 L671.0 342.1 L671.5 343.5 L672.1 345.1 L672.7 346.8 L673.2 348.6 L673.8 350.3 L674.4 351.9 L675.0 353.4 L675.5 354.7 L676.1 355.7 L676.7 356.8 L677.3 357.8 L677.8 358.7 L678.4 359.6 L679.0 360.4 L679.6 361.2 L680.1 361.9 L680.7 362.5 L681.3 363.0 L681.9 363.5 L682.4 364.0 L683.0 364.5 L683.6 364.9 L684.2 365.3 L684.7 365.7 L685.3 366.0 L685.9 366.4 L686.5 366.6 L687.0 366.9 L687.6 367.1 L688.2 367.2 L688.7 367.3 L689.3 367.5 L690.5 367.7 L691.6 367.9 L692.8 368.1 L693.9 368.3 L695.1 368.5 L696.2 368.6 L697.4 368.5 L698.5 368.4 L699.7 368.3 L700.8 368.2 L701.9 368.0 L703.1 367.7 L704.2 367.4 L705.4 367.0 L706.5 366.9 L707.7 366.7 L708.8 366.8 L710.0 366.7 L711.1 366.6 L712.3 366.3 L713.4 365.8 L714.6 365.4 L715.7 365.0 L716.9 364.8 L718.0 364.5 L719.2 364.8 L720.3 365.1 L721.5 365.4 L722.6 365.1 L723.8 365.0 L724.9 365.1 L726.1 365.3 L727.2 365.1 L728.4 364.6 L729.5 364.1 L730.6 363.8 L731.8 363.5 L732.9 363.1 L734.1 362.7 L735.2 362.4 L736.4 362.3 L737.5 362.2 L738.7 361.9 L739.8 361.6 L741.0 361.6 L742.1 361.4 L743.3 361.3 L744.4 360.9 L745.6 361.1 L746.7 360.9 L747.9 360.9 L749.0 360.7 L750.2 360.9 L751.3 361.0 L752.5 361.3 L753.6 361.3 L754.8 361.4 L755.9 361.0 L757.1 360.9 L758.2 361.2 L759.3 362.0 L760.5 362.6 L761.6 362.6 L762.8 362.2 L763.9 361.7 L765.1 361.7 L766.2 361.9 L767.4 362.5 L768.5 362.8 L769.7 362.9 L770.8 362.9 L772.0 363.0 L773.1 363.3 L774.3 363.4 L775.4 363.4 L776.6 363.4 L777.7 363.9 L778.9 364.8 L780.0 365.2 L781.2 365.4 L782.3 365.2 L783.5 365.3 L784.6 365.5 L785.8 365.6 L786.9 366.0 L788.0 366.2 L789.2 366.8 L790.3 367.3 L791.5 367.9 L792.6 368.0 L793.8 368.0 L794.9 368.2 L796.1 368.9 L797.2 370.0 L798.4 371.0 L799.5 371.5 L800.7 371.4 L801.8 371.0 L803.0 370.8 L804.1 370.8 L805.3 370.9 L806.4 371.0 L807.6 371.1 L808.7 371.4 L809.9 371.5 L811.0 372.0 L812.2 372.6 L813.3 373.2 L814.5 373.6 L815.6 373.7 L816.7 374.0 L817.9 374.1 L819.0 374.8 L820.2 375.2 L821.3 375.8 L822.5 375.9 L823.6 375.7 L824.8 375.5 L825.9 375.6 L827.1 376.2 L828.2 376.7 L829.4 377.1 L830.5 377.2 L831.7 377.1 L832.8 377.2 L834.0 377.2 L835.1 377.5 L836.3 377.6 L837.4 377.8 L838.6 378.0 L839.7 378.3 L840.9 378.5 L842.0 379.0 L843.2 379.5 L844.3 380.0 L845.4 380.0 L846.6 379.8 L847.7 379.5 L848.9 379.6 L850.0 379.9 L851.2 380.2 L852.3 380.4 L853.5 380.4 L854.6 380.4 L855.8 380.1 L856.9 380.2 L858.1 380.5 L859.2 380.9 L860.4 381.0 L861.5 381.0 L862.7 380.9 L863.8 380.7 L865.0 380.5 L866.1 380.4 L867.3 380.7 L868.4 380.7 L869.6 380.7 L870.7 380.7 L871.9 380.7 L873.0 380.6 L874.1 380.5 L875.3 380.7 L876.4 380.8 L877.6 380.9 L878.7 381.0 L879.9 381.5 L881.0 381.8 L882.2 381.8 L883.3 381.3 L884.5 381.1 L885.6 381.3 L886.8 381.5 L887.9 381.5 L889.1 381.2 L890.2 381.1 L891.4 381.4 L892.5 381.9 L893.7 382.5 L894.8 382.7 L896.0 382.7 L897.1 382.2 L898.3 381.9 L899.4 381.5 L900.6 381.5 L901.7 381.7 L902.8 382.2 L904.0 382.4 L905.1 382.2 L906.3 381.8 L907.4 381.3 L908.6 381.1 L909.7 381.1 L910.9 381.7 L912.0 382.4 L913.2 383.1 L914.3 383.2 L915.5 383.0 L916.6 382.4 L917.8 381.9 L918.9 381.5 L920.1 381.7 L921.2 382.0 L922.4 382.5 L923.5 382.5 L924.7 382.2 L925.8 381.9 L927.0 381.6 L928.1 381.0 L929.3 380.2 L930.4 379.5"/>
<path stroke="#c81616" stroke-width="2.5" d="M586.0 381.9 L586.6 381.5 L587.1 381.2 L587.7 381.0 L588.3 380.9 L588.9 380.9 L589.4 380.8 L590.0 380.8 L590.6 380.9 L591.2 381.2 L591.7 381.6 L592.3 382.1 L592.9 382.6 L593.5 383.1 L594.0 383.4 L594.6 383.8 L595.2 384.1 L595.8 384.4 L596.3 384.7 L596.9 384.9 L597.5 385.0 L598.1 384.8 L598.6 384.4 L599.2 383.7 L599.8 383.0 L600.4 381.9 L600.9 380.4 L601.5 378.4 L602.1 376.0 L602.6 372.1 L603.2 366.6 L603.8 360.5 L604.4 354.9 L604.9 349.9 L605.5 345.0 L606.1 340.3 L606.7 335.8 L607.2 331.4 L607.8 327.0 L608.4 322.9 L609.0 319.2 L609.5 315.9 L610.1 312.8 L610.7 309.9 L611.3 307.2 L611.8 304.5 L612.4 301.8 L613.0 299.4 L613.6 297.1 L614.1 295.0 L614.7 292.9 L615.3 291.1 L615.8 289.6 L616.4 288.3 L617.0 287.1 L617.6 286.2 L618.1 285.6 L618.7 285.2 L619.3 284.9 L619.9 284.6 L620.4 284.6 L621.0 284.7 L621.6 284.9 L622.2 285.3 L622.7 285.7 L623.3 286.3 L623.9 287.1 L624.5 288.1 L625.0 289.1 L625.6 290.1 L626.2 291.3 L626.8 292.5 L627.3 293.5 L627.9 294.4 L628.5 295.0 L629.0 295.7 L629.6 296.3 L630.2 296.7 L630.8 297.0 L631.3 297.1 L631.9 296.9 L632.5 296.5 L633.1 295.9 L633.6 295.3 L634.2 294.8 L634.8 294.1 L635.4 293.4 L635.9 292.9 L636.5 292.5 L637.1 292.2 L637.7 292.0 L638.2 291.9 L638.8 292.0 L639.4 292.4 L640.0 293.0 L640.5 293.7 L641.1 294.5 L641.7 295.4 L642.3 296.6 L642.8 297.8 L643.4 299.1 L644.0 300.5 L644.5 301.8 L645.1 303.3 L645.7 304.9 L646.3 306.5 L646.8 308.2 L647.4 309.9 L648.0 311.8 L648.6 313.6 L649.1 315.6 L649.7 317.8 L650.3 320.1 L650.9 322.5 L651.4 324.8 L652.0 326.9 L652.6 328.9 L653.2 330.8 L653.7 332.7 L654.3 334.4 L654.9 335.9 L655.5 337.2 L656.0 338.4 L656.6 339.5 L657.2 340.4 L657.8 341.1 L658.3 341.6 L658.9 342.0 L659.5 342.3 L660.0 342.6 L660.6 342.9 L661.2 343.1 L661.8 343.4 L662.3 343.6 L662.9 344.0 L663.5 344.3 L664.1 344.7 L664.6 345.2 L665.2 345.8 L665.8 346.4 L666.4 347.1 L666.9 347.8 L667.5 348.6 L668.1 349.4 L668.7 350.2 L669.2 351.0 L669.8 351.9 L670.4 352.8 L671.0 353.6 L671.5 354.5 L672.1 355.5 L672.7 356.6 L673.2 357.6 L673.8 358.7 L674.4 359.7 L675.0 360.6 L675.5 361.5 L676.1 362.2 L676.7 363.0 L677.3 363.8 L677.8 364.5 L678.4 365.2 L679.0 365.8 L679.6 366.4 L680.1 366.9 L680.7 367.4 L681.3 367.7 L681.9 368.1 L682.4 368.4 L683.0 368.7 L683.6 368.9 L684.2 369.2 L684.7 369.4 L685.3 369.6 L685.9 369.7 L686.5 369.8 L687.0 369.8 L687.6 369.8 L688.2 369.8 L688.7 369.7 L689.3 369.6 L690.5 369.4 L691.6 369.1 L692.8 368.8 L693.9 368.5 L695.1 368.2 L696.2 368.0 L697.4 367.6 L698.5 367.2 L699.7 366.8 L700.8 366.4 L701.9 365.8 L703.1 365.3 L704.2 364.8 L705.4 364.4 L706.5 364.2 L707.7 363.9 L708.8 363.5 L710.0 362.9 L711.1 362.4 L712.3 361.8 L713.4 361.4 L714.6 361.0 L715.7 360.8 L716.9 360.4 L718.0 359.7 L719.2 359.0 L720.3 358.6 L721.5 358.2 L722.6 357.8 L723.8 357.4 L724.9 357.3 L726.1 357.1 L727.2 357.0 L728.4 356.6 L729.5 356.4 L730.6 356.0 L731.8 355.7 L732.9 355.0 L734.1 354.5 L735.2 354.1 L736.4 354.3 L737.5 354.4 L738.7 354.3 L739.8 353.9 L741.0 353.6 L742.1 353.7 L743.3 353.7 L744.4 354.0 L745.6 353.8 L746.7 353.7 L747.9 353.2 L749.0 352.7 L750.2 352.1 L751.3 351.9 L752.5 352.1 L753.6 352.3 L754.8 352.4 L755.9 352.2 L757.1 352.1 L758.2 352.2 L759.3 352.7 L760.5 353.5 L761.6 354.2 L762.8 354.6 L763.9 354.6 L765.1 354.6 L766.2 354.3 L767.4 354.1 L768.5 354.2 L769.7 354.5 L770.8 354.8 L772.0 355.2 L773.1 355.8 L774.3 356.7 L775.4 357.4 L776.6 357.4 L777.7 357.1 L778.9 356.9 L780.0 357.2 L781.2 357.6 L782.3 358.1 L783.5 358.9 L784.6 359.5 L785.8 360.0 L786.9 360.0 L788.0 360.3 L789.2 360.8 L790.3 361.4 L791.5 362.2 L792.6 362.7 L793.8 363.2 L794.9 363.3 L796.1 363.6 L797.2 363.8 L798.4 363.9 L799.5 364.1 L800.7 364.5 L801.8 365.4 L803.0 366.1 L804.1 366.3 L805.3 366.5 L806.4 367.0 L807.6 367.9 L808.7 368.4 L809.9 368.7 L811.0 368.7 L812.2 368.9 L813.3 369.0 L814.5 369.5 L815.6 370.3 L816.7 371.3 L817.9 371.7 L819.0 371.5 L820.2 371.3 L821.3 371.5 L822.5 372.1 L823.6 372.4 L824.8 372.8 L825.9 373.3 L827.1 374.0 L828.2 374.2 L829.4 374.2 L830.5 374.0 L831.7 374.1 L832.8 374.4 L834.0 374.7 L835.1 375.2 L836.3 375.6 L837.4 375.8 L838.6 375.9 L839.7 376.4 L840.9 376.8 L842.0 377.0 L843.2 376.8 L844.3 376.5 L845.4 376.4 L846.6 376.6 L847.7 377.3 L848.9 378.1 L850.0 378.6 L851.2 378.5 L852.3 378.2 L853.5 378.3 L854.6 378.7 L855.8 379.3 L856.9 379.8 L858.1 380.5 L859.2 380.5 L860.4 380.3 L861.5 379.4 L862.7 378.7 L863.8 378.5 L865.0 378.7 L866.1 379.2 L867.3 379.4 L868.4 379.6 L869.6 379.4 L870.7 379.4 L871.9 379.5 L873.0 379.5 L874.1 379.4 L875.3 379.4 L876.4 379.3 L877.6 379.3 L878.7 379.4 L879.9 379.4 L881.0 379.4 L882.2 379.3 L883.3 379.5 L884.5 379.2 L885.6 379.3 L886.8 379.5 L887.9 380.0 L889.1 380.3 L890.2 380.1 L891.4 380.2 L892.5 380.4 L893.7 381.1 L894.8 381.4 L896.0 381.7 L897.1 381.5 L898.3 381.0 L899.4 380.3 L900.6 379.9 L901.7 380.0 L902.8 380.3 L904.0 380.6 L905.1 380.3 L906.3 379.8 L907.4 379.8 L908.6 380.4 L909.7 381.4 L910.9 381.7 L912.0 381.7 L913.2 381.3 L914.3 381.5 L915.5 381.5 L916.6 382.3 L917.8 382.6 L918.9 382.9 L920.1 382.8 L921.2 382.8 L922.4 382.9 L923.5 383.0 L924.7 382.9 L925.8 382.4 L927.0 381.6 L928.1 380.8 L929.3 380.0 L930.4 379.4"/>
<path stroke="#00e650" stroke-width="3.2" d="M586.0 381.9 L586.6 381.5 L587.1 381.2 L587.7 381.0 L588.3 380.9 L588.9 380.9 L589.4 380.8 L590.0 380.8 L590.6 380.9 L591.2 381.2 L591.7 381.6 L592.3 382.1 L592.9 382.6 L593.5 383.1 L594.0 383.4 L594.6 383.8 L595.2 384.1 L595.8 384.4 L596.3 384.7 L596.9 384.9 L597.5 385.0 L598.1 384.9 L598.6 384.5 L599.2 383.9 L599.8 383.2 L600.4 382.3 L600.9 380.9 L601.5 379.2 L602.1 377.0 L602.6 373.6 L603.2 368.7 L603.8 363.3 L604.4 358.3 L604.9 353.9 L605.5 349.6 L606.1 345.4 L606.7 341.4 L607.2 337.5 L607.8 333.7 L608.4 330.0 L609.0 326.8 L609.5 323.8 L610.1 321.1 L610.7 318.5 L611.3 316.1 L611.8 313.7 L612.4 311.4 L613.0 309.2 L613.6 307.2 L614.1 305.3 L614.7 303.5 L615.3 301.9 L615.8 300.5 L616.4 299.4 L617.0 298.3 L617.6 297.5 L618.1 297.0 L618.7 296.6 L619.3 296.3 L619.9 296.1 L620.4 296.1 L621.0 296.1 L621.6 296.3 L622.2 296.6 L622.7 296.9 L623.3 297.4 L623.9 298.0 L624.5 298.7 L625.0 299.5 L625.6 300.2 L626.2 301.1 L626.8 302.0 L627.3 302.8 L627.9 303.4 L628.5 303.9 L629.0 304.4 L629.6 304.9 L630.2 305.2 L630.8 305.4 L631.3 305.5 L631.9 305.2 L632.5 304.8 L633.1 304.1 L633.6 303.5 L634.2 302.9 L634.8 302.2 L635.4 301.4 L635.9 300.8 L636.5 300.4 L637.1 300.1 L637.7 299.9 L638.2 299.7 L638.8 299.8 L639.4 300.2 L640.0 300.8 L640.5 301.4 L641.1 302.1 L641.7 303.0 L642.3 304.0 L642.8 305.2 L643.4 306.4 L644.0 307.7 L644.5 308.9 L645.1 310.3 L645.7 311.7 L646.3 313.2 L646.8 314.8 L647.4 316.4 L648.0 318.1 L648.6 319.9 L649.1 321.7 L649.7 323.7 L650.3 325.9 L650.9 328.1 L651.4 330.2 L652.0 332.1 L652.6 334.0 L653.2 335.8 L653.7 337.5 L654.3 339.1 L654.9 340.4 L655.5 341.6 L656.0 342.8 L656.6 343.8 L657.2 344.6 L657.8 345.2 L658.3 345.7 L658.9 346.0 L659.5 346.3 L660.0 346.6 L660.6 346.8 L661.2 347.0 L661.8 347.2 L662.3 347.5 L662.9 347.7 L663.5 348.0 L664.1 348.4 L664.6 348.8 L665.2 349.3 L665.8 349.8 L666.4 350.4 L666.9 351.1 L667.5 351.7 L668.1 352.4 L668.7 353.2 L669.2 353.9 L669.8 354.7 L670.4 355.5 L671.0 356.2 L671.5 357.1 L672.1 358.0 L672.7 358.9 L673.2 359.9 L673.8 360.9 L674.4 361.9 L675.0 362.8 L675.5 363.6 L676.1 364.3 L676.7 364.9 L677.3 365.6 L677.8 366.3 L678.4 366.9 L679.0 367.4 L679.6 368.0 L680.1 368.5 L680.7 368.9 L681.3 369.3 L681.9 369.7 L682.4 370.0 L683.0 370.4 L683.6 370.7 L684.2 371.1 L684.7 371.3 L685.3 371.6 L685.9 371.8 L686.5 371.9 L687.0 371.9 L687.6 371.9 L688.2 371.9 L688.7 371.8 L689.3 371.7 L690.5 371.5 L691.6 371.2 L692.8 370.9 L693.9 370.7 L695.1 370.5 L696.2 370.2 L697.4 369.8 L698.5 369.3 L699.7 368.8 L700.8 368.1 L701.9 367.4 L703.1 366.8 L704.2 366.3 L705.4 365.8 L706.5 365.4 L707.7 365.0 L708.8 364.6 L710.0 364.0 L711.1 363.4 L712.3 362.7 L713.4 362.3 L714.6 361.9 L715.7 361.5 L716.9 360.9 L718.0 360.3 L719.2 359.7 L720.3 359.2 L721.5 358.8 L722.6 358.4 L723.8 358.2 L724.9 357.9 L726.1 357.4 L727.2 356.9 L728.4 356.2 L729.5 355.9 L730.6 355.3 L731.8 354.9 L732.9 354.8 L734.1 354.8 L735.2 354.6 L736.4 354.0 L737.5 353.8 L738.7 353.3 L739.8 353.2 L741.0 352.7 L742.1 352.5 L743.3 352.0 L744.4 351.8 L745.6 351.7 L746.7 351.6 L747.9 351.3 L749.0 351.0 L750.2 350.8 L751.3 350.8 L752.5 350.9 L753.6 350.9 L754.8 350.9 L755.9 350.8 L757.1 350.7 L758.2 350.8 L759.3 351.1 L760.5 351.6 L761.6 351.8 L762.8 351.8 L763.9 351.6 L765.1 351.4 L766.2 351.6 L767.4 351.9 L768.5 352.5 L769.7 352.7 L770.8 353.2 L772.0 353.7 L773.1 354.3 L774.3 354.8 L775.4 355.3 L776.6 355.9 L777.7 356.1 L778.9 356.1 L780.0 355.7 L781.2 355.8 L782.3 356.4 L783.5 357.1 L784.6 357.4 L785.8 357.4 L786.9 357.7 L788.0 358.2 L789.2 359.0 L790.3 359.7 L791.5 360.0 L792.6 360.4 L793.8 361.0 L794.9 361.5 L796.1 361.6 L797.2 361.8 L798.4 362.4 L799.5 363.0 L800.7 363.4 L801.8 363.7 L803.0 364.1 L804.1 364.5 L805.3 365.2 L806.4 365.5 L807.6 365.9 L808.7 366.0 L809.9 366.4 L811.0 366.7 L812.2 366.8 L813.3 367.2 L814.5 367.7 L815.6 368.4 L816.7 369.1 L817.9 369.4 L819.0 369.7 L820.2 369.7 L821.3 370.0 L822.5 370.3 L823.6 370.8 L824.8 371.2 L825.9 371.8 L827.1 372.3 L828.2 373.2 L829.4 373.4 L830.5 373.4 L831.7 373.0 L832.8 373.0 L834.0 373.4 L835.1 373.7 L836.3 374.0 L837.4 373.7 L838.6 373.6 L839.7 373.2 L840.9 373.5 L842.0 374.2 L843.2 375.3 L844.3 376.0 L845.4 376.2 L846.6 376.2 L847.7 376.3 L848.9 376.7 L850.0 376.8 L851.2 376.8 L852.3 376.6 L853.5 377.4 L854.6 378.1 L855.8 378.7 L856.9 378.3 L858.1 378.2 L859.2 378.1 L860.4 378.1 L861.5 377.9 L862.7 377.3 L863.8 377.0 L865.0 376.6 L866.1 377.0 L867.3 377.4 L868.4 377.8 L869.6 377.7 L870.7 377.6 L871.9 377.4 L873.0 377.4 L874.1 377.7 L875.3 378.5 L876.4 378.7 L877.6 378.6 L878.7 377.8 L879.9 377.5 L881.0 377.4 L882.2 377.7 L883.3 378.2 L884.5 378.6 L885.6 378.8 L886.8 378.8 L887.9 379.1 L889.1 379.6 L890.2 380.3 L891.4 380.3 L892.5 380.2 L893.7 379.8 L894.8 380.0 L896.0 380.0 L897.1 379.7 L898.3 379.4 L899.4 379.4 L900.6 379.7 L901.7 379.9 L902.8 379.8 L904.0 379.7 L905.1 379.5 L906.3 379.5 L907.4 379.3 L908.6 379.7 L909.7 380.2 L910.9 381.0 L912.0 381.2 L913.2 381.1 L914.3 380.9 L915.5 381.3 L916.6 381.4 L917.8 381.6 L918.9 381.5 L920.1 381.8 L921.2 381.8 L922.4 381.8 L923.5 381.7 L924.7 381.5 L925.8 381.0 L927.0 380.3 L928.1 379.8 L929.3 379.5 L930.4 379.2"/>
<path stroke="#ff6a16" stroke-width="2.5" d="M586.0 381.9 L586.6 381.5 L587.1 381.2 L587.7 381.0 L588.3 380.9 L588.9 380.9 L589.4 380.8 L590.0 380.8 L590.6 380.9 L591.2 381.2 L591.7 381.6 L592.3 382.1 L592.9 382.6 L593.5 383.1 L594.0 383.4 L594.6 383.8 L595.2 384.1 L595.8 384.4 L596.3 384.7 L596.9 384.9 L597.5 385.0 L598.1 384.8 L598.6 384.4 L599.2 383.9 L599.8 383.2 L600.4 382.2 L600.9 380.8 L601.5 379.0 L602.1 376.8 L602.6 373.3 L603.2 368.2 L603.8 362.7 L604.4 357.5 L604.9 353.0 L605.5 348.6 L606.1 344.3 L606.7 340.1 L607.2 336.1 L607.8 332.2 L608.4 328.4 L609.0 325.0 L609.5 322.0 L610.1 319.2 L610.7 316.6 L611.3 314.1 L611.8 311.6 L612.4 309.2 L613.0 307.0 L613.6 304.9 L614.1 302.9 L614.7 301.1 L615.3 299.4 L615.8 298.0 L616.4 296.9 L617.0 295.8 L617.6 294.9 L618.1 294.4 L618.7 294.0 L619.3 293.7 L619.9 293.5 L620.4 293.5 L621.0 293.5 L621.6 293.8 L622.2 294.1 L622.7 294.4 L623.3 294.9 L623.9 295.6 L624.5 296.4 L625.0 297.2 L625.6 298.1 L626.2 299.1 L626.8 300.0 L627.3 300.9 L627.9 301.6 L628.5 302.2 L629.0 302.7 L629.6 303.2 L630.2 303.6 L630.8 303.9 L631.3 303.9 L631.9 303.7 L632.5 303.2 L633.1 302.6 L633.6 302.0 L634.2 301.3 L634.8 300.6 L635.4 299.8 L635.9 299.2 L636.5 298.8 L637.1 298.5 L637.7 298.3 L638.2 298.2 L638.8 298.3 L639.4 298.7 L640.0 299.2 L640.5 299.9 L641.1 300.6 L641.7 301.5 L642.3 302.5 L642.8 303.7 L643.4 304.9 L644.0 306.2 L644.5 307.5 L645.1 308.9 L645.7 310.3 L646.3 311.8 L646.8 313.4 L647.4 315.1 L648.0 316.8 L648.6 318.5 L649.1 320.4 L649.7 322.4 L650.3 324.6 L650.9 326.8 L651.4 329.0 L652.0 330.9 L652.6 332.8 L653.2 334.6 L653.7 336.4 L654.3 338.0 L654.9 339.3 L655.5 340.6 L656.0 341.7 L656.6 342.7 L657.2 343.6 L657.8 344.2 L658.3 344.6 L658.9 345.0 L659.5 345.3 L660.0 345.5 L660.6 345.8 L661.2 346.0 L661.8 346.2 L662.3 346.4 L662.9 346.7 L663.5 347.0 L664.1 347.3 L664.6 347.8 L665.2 348.3 L665.8 348.9 L666.4 349.5 L666.9 350.2 L667.5 350.9 L668.1 351.7 L668.7 352.5 L669.2 353.3 L669.8 354.1 L670.4 354.9 L671.0 355.7 L671.5 356.6 L672.1 357.5 L672.7 358.5 L673.2 359.5 L673.8 360.4 L674.4 361.4 L675.0 362.3 L675.5 363.0 L676.1 363.7 L676.7 364.4 L677.3 365.1 L677.8 365.8 L678.4 366.4 L679.0 367.0 L679.6 367.5 L680.1 368.0 L680.7 368.4 L681.3 368.8 L681.9 369.1 L682.4 369.4 L683.0 369.7 L683.6 370.0 L684.2 370.2 L684.7 370.4 L685.3 370.6 L685.9 370.8 L686.5 370.8 L687.0 370.9 L687.6 370.9 L688.2 370.8 L688.7 370.8 L689.3 370.7 L690.5 370.5 L691.6 370.2 L692.8 370.0 L693.9 369.6 L695.1 369.3 L696.2 369.0 L697.4 368.7 L698.5 368.2 L699.7 367.6 L700.8 367.3 L701.9 367.1 L703.1 366.9 L704.2 366.3 L705.4 365.8 L706.5 365.5 L707.7 365.4 L708.8 365.0 L710.0 364.4 L711.1 363.7 L712.3 363.4 L713.4 362.8 L714.6 362.3 L715.7 362.0 L716.9 362.1 L718.0 361.9 L719.2 361.3 L720.3 360.7 L721.5 359.9 L722.6 359.7 L723.8 359.4 L724.9 359.3 L726.1 358.9 L727.2 358.4 L728.4 358.1 L729.5 357.9 L730.6 357.8 L731.8 357.1 L732.9 356.3 L734.1 356.0 L735.2 356.0 L736.4 356.4 L737.5 356.0 L738.7 355.5 L739.8 355.3 L741.0 355.5 L742.1 356.1 L743.3 355.9 L744.4 355.6 L745.6 355.2 L746.7 355.3 L747.9 355.2 L749.0 354.8 L750.2 354.3 L751.3 354.0 L752.5 354.4 L753.6 354.3 L754.8 354.5 L755.9 354.2 L757.1 354.4 L758.2 354.4 L759.3 354.8 L760.5 355.3 L761.6 355.6 L762.8 355.4 L763.9 355.3 L765.1 355.3 L766.2 356.1 L767.4 356.5 L768.5 357.1 L769.7 357.2 L770.8 357.4 L772.0 357.4 L773.1 357.7 L774.3 358.2 L775.4 358.3 L776.6 358.2 L777.7 358.0 L778.9 358.4 L780.0 358.8 L781.2 359.2 L782.3 359.4 L783.5 359.8 L784.6 360.4 L785.8 360.5 L786.9 360.6 L788.0 360.8 L789.2 361.4 L790.3 362.3 L791.5 363.1 L792.6 363.6 L793.8 363.9 L794.9 364.3 L796.1 365.0 L797.2 365.9 L798.4 366.4 L799.5 366.6 L800.7 366.6 L801.8 366.7 L803.0 367.0 L804.1 367.4 L805.3 368.2 L806.4 368.8 L807.6 369.2 L808.7 369.3 L809.9 369.1 L811.0 369.3 L812.2 369.2 L813.3 369.4 L814.5 369.6 L815.6 370.6 L816.7 371.5 L817.9 372.2 L819.0 371.9 L820.2 371.7 L821.3 371.7 L822.5 372.0 L823.6 372.3 L824.8 372.7 L825.9 373.0 L827.1 373.6 L828.2 373.8 L829.4 373.8 L830.5 373.3 L831.7 373.2 L832.8 373.5 L834.0 374.3 L835.1 374.9 L836.3 375.4 L837.4 375.8 L838.6 376.2 L839.7 376.5 L840.9 376.7 L842.0 376.9 L843.2 377.1 L844.3 377.4 L845.4 377.5 L846.6 377.3 L847.7 376.8 L848.9 376.7 L850.0 377.0 L851.2 377.6 L852.3 378.0 L853.5 378.4 L854.6 378.6 L855.8 378.8 L856.9 378.5 L858.1 378.8 L859.2 378.9 L860.4 379.5 L861.5 379.2 L862.7 378.9 L863.8 378.4 L865.0 378.3 L866.1 378.3 L867.3 378.3 L868.4 378.3 L869.6 378.5 L870.7 378.9 L871.9 379.2 L873.0 379.1 L874.1 378.8 L875.3 378.7 L876.4 378.8 L877.6 379.3 L878.7 379.6 L879.9 380.1 L881.0 380.1 L882.2 379.9 L883.3 379.4 L884.5 379.5 L885.6 379.7 L886.8 380.1 L887.9 379.9 L889.1 379.7 L890.2 379.9 L891.4 379.9 L892.5 380.0 L893.7 379.6 L894.8 379.9 L896.0 380.3 L897.1 380.7 L898.3 380.7 L899.4 380.4 L900.6 380.4 L901.7 380.2 L902.8 380.1 L904.0 380.1 L905.1 380.2 L906.3 380.4 L907.4 380.5 L908.6 380.6 L909.7 380.6 L910.9 380.7 L912.0 380.7 L913.2 380.7 L914.3 380.5 L915.5 380.5 L916.6 380.4 L917.8 380.6 L918.9 380.9 L920.1 381.3 L921.2 381.5 L922.4 381.5 L923.5 381.1 L924.7 380.9 L925.8 380.6 L927.0 380.1 L928.1 379.2 L929.3 378.3 L930.4 377.5"/>
<path stroke="#15155c" stroke-width="2.5" d="M586.0 381.9 L586.6 381.5 L587.1 381.2 L587.7 381.0 L588.3 380.9 L588.9 380.9 L589.4 380.8 L590.0 380.8 L590.6 380.9 L591.2 381.2 L591.7 381.6 L592.3 382.1 L592.9 382.6 L593.5 383.1 L594.0 383.4 L594.6 383.8 L595.2 384.1 L595.8 384.4 L596.3 384.7 L596.9 384.9 L597.5 385.0 L598.1 384.8 L598.6 384.4 L599.2 383.9 L599.8 383.2 L600.4 382.2 L600.9 380.8 L601.5 379.0 L602.1 376.8 L602.6 373.3 L603.2 368.3 L603.8 362.8 L604.4 357.7 L604.9 353.2 L605.5 348.8 L606.1 344.5 L606.7 340.4 L607.2 336.4 L607.8 332.5 L608.4 328.8 L609.0 325.4 L609.5 322.4 L610.1 319.6 L610.7 317.0 L611.3 314.5 L611.8 312.0 L612.4 309.6 L613.0 307.4 L613.6 305.4 L614.1 303.4 L614.7 301.6 L615.3 299.9 L615.8 298.5 L616.4 297.4 L617.0 296.3 L617.6 295.4 L618.1 294.9 L618.7 294.5 L619.3 294.3 L619.9 294.1 L620.4 294.0 L621.0 294.1 L621.6 294.2 L622.2 294.5 L622.7 294.8 L623.3 295.3 L623.9 295.9 L624.5 296.6 L625.0 297.4 L625.6 298.2 L626.2 299.0 L626.8 299.9 L627.3 300.7 L627.9 301.3 L628.5 301.8 L629.0 302.3 L629.6 302.8 L630.2 303.1 L630.8 303.3 L631.3 303.4 L631.9 303.1 L632.5 302.7 L633.1 302.1 L633.6 301.4 L634.2 300.8 L634.8 300.1 L635.4 299.3 L635.9 298.7 L636.5 298.3 L637.1 298.0 L637.7 297.8 L638.2 297.6 L638.8 297.8 L639.4 298.2 L640.0 298.7 L640.5 299.4 L641.1 300.1 L641.7 301.0 L642.3 302.1 L642.8 303.2 L643.4 304.5 L644.0 305.8 L644.5 307.1 L645.1 308.5 L645.7 309.9 L646.3 311.5 L646.8 313.1 L647.4 314.7 L648.0 316.5 L648.6 318.2 L649.1 320.1 L649.7 322.2 L650.3 324.4 L650.9 326.6 L651.4 328.8 L652.0 330.8 L652.6 332.7 L653.2 334.5 L653.7 336.3 L654.3 337.9 L654.9 339.3 L655.5 340.5 L656.0 341.7 L656.6 342.7 L657.2 343.6 L657.8 344.2 L658.3 344.6 L658.9 345.0 L659.5 345.3 L660.0 345.5 L660.6 345.8 L661.2 346.0 L661.8 346.2 L662.3 346.4 L662.9 346.7 L663.5 347.0 L664.1 347.3 L664.6 347.8 L665.2 348.3 L665.8 348.9 L666.4 349.5 L666.9 350.2 L667.5 350.9 L668.1 351.7 L668.7 352.5 L669.2 353.3 L669.8 354.1 L670.4 354.9 L671.0 355.7 L671.5 356.6 L672.1 357.5 L672.7 358.5 L673.2 359.5 L673.8 360.4 L674.4 361.4 L675.0 362.3 L675.5 363.0 L676.1 363.7 L676.7 364.4 L677.3 365.1 L677.8 365.8 L678.4 366.4 L679.0 367.0 L679.6 367.5 L680.1 368.0 L680.7 368.4 L681.3 368.8 L681.9 369.1 L682.4 369.4 L683.0 369.7 L683.6 370.0 L684.2 370.2 L684.7 370.4 L685.3 370.6 L685.9 370.8 L686.5 370.8 L687.0 370.9 L687.6 370.9 L688.2 370.8 L688.7 370.8 L689.3 370.7 L690.5 370.5 L691.6 370.2 L692.8 369.9 L693.9 369.5 L695.1 369.2 L696.2 368.9 L697.4 368.5 L698.5 368.1 L699.7 367.5 L700.8 367.1 L701.9 366.6 L703.1 366.3 L704.2 365.8 L705.4 365.1 L706.5 364.6 L707.7 364.3 L708.8 363.9 L710.0 363.2 L711.1 362.3 L712.3 361.5 L713.4 360.9 L714.6 360.3 L715.7 359.9 L716.9 359.7 L718.0 359.4 L719.2 359.0 L720.3 358.5 L721.5 357.8 L722.6 357.2 L723.8 356.8 L724.9 356.5 L726.1 356.0 L727.2 355.4 L728.4 354.8 L729.5 354.7 L730.6 354.4 L731.8 354.2 L732.9 353.4 L734.1 353.1 L735.2 352.9 L736.4 352.9 L737.5 352.5 L738.7 352.1 L739.8 351.7 L741.0 351.3 L742.1 350.5 L743.3 350.1 L744.4 349.9 L745.6 350.3 L746.7 350.6 L747.9 350.9 L749.0 350.6 L750.2 350.3 L751.3 349.8 L752.5 349.7 L753.6 349.4 L754.8 349.5 L755.9 349.8 L757.1 350.6 L758.2 351.1 L759.3 351.1 L760.5 350.9 L761.6 350.8 L762.8 351.0 L763.9 351.2 L765.1 351.2 L766.2 351.4 L767.4 351.8 L768.5 352.1 L769.7 352.2 L770.8 352.1 L772.0 352.1 L773.1 352.6 L774.3 353.2 L775.4 353.9 L776.6 354.7 L777.7 355.4 L778.9 355.7 L780.0 355.5 L781.2 355.2 L782.3 355.4 L783.5 356.1 L784.6 356.9 L785.8 357.7 L786.9 358.6 L788.0 359.4 L789.2 359.8 L790.3 359.8 L791.5 360.1 L792.6 360.8 L793.8 361.6 L794.9 362.2 L796.1 362.5 L797.2 362.6 L798.4 363.1 L799.5 363.9 L800.7 364.5 L801.8 365.0 L803.0 365.3 L804.1 365.8 L805.3 366.1 L806.4 366.5 L807.6 366.7 L808.7 366.9 L809.9 367.2 L811.0 367.4 L812.2 367.6 L813.3 367.9 L814.5 368.4 L815.6 369.0 L816.7 369.4 L817.9 370.2 L819.0 371.0 L820.2 371.5 L821.3 371.6 L822.5 371.6 L823.6 372.0 L824.8 372.3 L825.9 372.8 L827.1 372.8 L828.2 373.3 L829.4 373.5 L830.5 373.5 L831.7 373.5 L832.8 373.6 L834.0 374.0 L835.1 374.2 L836.3 374.5 L837.4 374.8 L838.6 375.1 L839.7 375.2 L840.9 375.5 L842.0 375.7 L843.2 375.7 L844.3 375.6 L845.4 375.5 L846.6 375.9 L847.7 376.2 L848.9 376.6 L850.0 377.0 L851.2 377.8 L852.3 378.5 L853.5 378.6 L854.6 378.5 L855.8 378.6 L856.9 378.9 L858.1 378.8 L859.2 378.8 L860.4 379.0 L861.5 379.5 L862.7 379.5 L863.8 378.9 L865.0 378.5 L866.1 377.8 L867.3 378.0 L868.4 377.9 L869.6 378.0 L870.7 377.7 L871.9 377.7 L873.0 378.0 L874.1 378.2 L875.3 378.3 L876.4 378.1 L877.6 378.1 L878.7 378.3 L879.9 379.0 L881.0 379.3 L882.2 379.5 L883.3 379.2 L884.5 379.1 L885.6 378.9 L886.8 378.9 L887.9 379.1 L889.1 379.6 L890.2 379.9 L891.4 380.5 L892.5 380.6 L893.7 380.9 L894.8 380.5 L896.0 380.4 L897.1 379.9 L898.3 379.9 L899.4 379.8 L900.6 380.3 L901.7 380.2 L902.8 380.0 L904.0 379.8 L905.1 380.1 L906.3 380.7 L907.4 381.4 L908.6 381.6 L909.7 381.6 L910.9 381.2 L912.0 381.1 L913.2 381.4 L914.3 382.0 L915.5 382.4 L916.6 382.5 L917.8 382.3 L918.9 382.2 L920.1 382.0 L921.2 382.2 L922.4 382.1 L923.5 381.8 L924.7 381.1 L925.8 380.7 L927.0 380.4 L928.1 380.0 L929.3 379.5 L930.4 379.2"/>
<path stroke="#ff0a0a" stroke-width="2.8" d="M586.0 382.4 L586.6 381.9 L587.1 381.5 L587.7 381.3 L588.3 381.0 L588.9 380.9 L589.4 380.8 L590.0 380.8 L590.6 380.9 L591.2 381.2 L591.7 381.6 L592.3 382.1 L592.9 382.6 L593.5 383.1 L594.0 383.4 L594.6 383.8 L595.2 384.1 L595.8 384.4 L596.3 384.7 L596.9 384.9 L597.5 385.0 L598.1 384.8 L598.6 384.4 L599.2 383.7 L599.8 382.9 L600.4 381.9 L600.9 380.3 L601.5 378.2 L602.1 375.7 L602.6 371.8 L603.2 366.1 L603.8 359.8 L604.4 354.1 L604.9 349.0 L605.5 344.0 L606.1 339.2 L606.7 334.5 L607.2 330.0 L607.8 325.5 L608.4 321.3 L609.0 317.5 L609.5 314.1 L610.1 310.9 L610.7 308.0 L611.3 305.1 L611.8 302.4 L612.4 299.7 L613.0 297.2 L613.6 294.8 L614.1 292.6 L614.7 290.5 L615.3 288.7 L615.8 287.1 L616.4 285.8 L617.0 284.6 L617.6 283.6 L618.1 283.0 L618.7 282.6 L619.3 282.3 L619.9 282.0 L620.4 281.9 L621.0 282.0 L621.6 282.3 L622.2 282.7 L622.7 283.1 L623.3 283.7 L623.9 284.6 L624.5 285.6 L625.0 286.6 L625.6 287.6 L626.2 288.8 L626.8 290.0 L627.3 291.1 L627.9 291.9 L628.5 292.6 L629.0 293.3 L629.6 293.9 L630.2 294.4 L630.8 294.7 L631.3 294.8 L631.9 294.6 L632.5 294.1 L633.1 293.6 L633.6 293.1 L634.2 292.5 L634.8 291.9 L635.4 291.2 L635.9 290.7 L636.5 290.4 L637.1 290.1 L637.7 289.9 L638.2 289.8 L638.8 289.9 L639.4 290.3 L640.0 291.0 L640.5 291.7 L641.1 292.4 L641.7 293.4 L642.3 294.6 L642.8 295.8 L643.4 297.2 L644.0 298.6 L644.5 300.0 L645.1 301.5 L645.7 303.0 L646.3 304.7 L646.8 306.4 L647.4 308.2 L648.0 310.1 L648.6 312.0 L649.1 314.0 L649.7 316.3 L650.3 318.7 L650.9 321.1 L651.4 323.4 L652.0 325.5 L652.6 327.6 L653.2 329.6 L653.7 331.6 L654.3 333.3 L654.9 334.7 L655.5 335.9 L656.0 336.9 L656.6 337.9 L657.2 338.7 L657.8 339.4 L658.3 340.0 L658.9 340.5 L659.5 340.9 L660.0 341.3 L660.6 341.6 L661.2 341.9 L661.8 342.2 L662.3 342.5 L662.9 342.8 L663.5 343.2 L664.1 343.7 L664.6 344.2 L665.2 344.8 L665.8 345.4 L666.4 346.1 L666.9 346.8 L667.5 347.5 L668.1 348.3 L668.7 349.1 L669.2 350.0 L669.8 350.8 L670.4 351.7 L671.0 352.6 L671.5 353.5 L672.1 354.6 L672.7 355.7 L673.2 356.8 L673.8 357.9 L674.4 359.0 L675.0 360.0 L675.5 360.9 L676.1 361.8 L676.7 362.6 L677.3 363.4 L677.8 364.1 L678.4 364.9 L679.0 365.6 L679.6 366.2 L680.1 366.8 L680.7 367.3 L681.3 367.7 L681.9 368.1 L682.4 368.6 L683.0 369.0 L683.6 369.3 L684.2 369.6 L684.7 369.9 L685.3 370.0 L685.9 370.1 L686.5 370.1 L687.0 370.0 L687.6 370.0 L688.2 369.9 L688.7 369.8 L689.3 369.6 L690.5 369.3 L691.6 369.0 L692.8 368.6 L693.9 368.3 L695.1 368.0 L696.2 367.5 L697.4 366.9 L698.5 366.3 L699.7 365.8 L700.8 365.4 L701.9 365.1 L703.1 364.6 L704.2 363.9 L705.4 363.1 L706.5 362.2 L707.7 361.6 L708.8 360.8 L710.0 360.2 L711.1 359.5 L712.3 358.8 L713.4 358.1 L714.6 357.7 L715.7 357.6 L716.9 357.5 L718.0 357.1 L719.2 356.5 L720.3 355.6 L721.5 354.8 L722.6 354.3 L723.8 354.1 L724.9 354.0 L726.1 353.4 L727.2 352.7 L728.4 352.0 L729.5 351.8 L730.6 351.7 L731.8 351.4 L732.9 351.0 L734.1 350.9 L735.2 350.9 L736.4 350.7 L737.5 350.0 L738.7 349.4 L739.8 349.3 L741.0 349.2 L742.1 348.8 L743.3 348.2 L744.4 348.0 L745.6 348.0 L746.7 347.9 L747.9 347.7 L749.0 347.2 L750.2 346.8 L751.3 346.5 L752.5 346.3 L753.6 346.3 L754.8 346.2 L755.9 346.5 L757.1 346.4 L758.2 346.4 L759.3 346.2 L760.5 346.4 L761.6 346.8 L762.8 347.2 L763.9 347.9 L765.1 348.4 L766.2 348.8 L767.4 349.0 L768.5 349.1 L769.7 349.2 L770.8 349.4 L772.0 349.8 L773.1 350.2 L774.3 350.6 L775.4 350.8 L776.6 351.1 L777.7 351.4 L778.9 351.9 L780.0 352.5 L781.2 353.3 L782.3 354.4 L783.5 355.6 L784.6 356.4 L785.8 356.6 L786.9 357.0 L788.0 357.5 L789.2 358.3 L790.3 358.6 L791.5 358.8 L792.6 359.0 L793.8 359.7 L794.9 360.5 L796.1 361.4 L797.2 362.3 L798.4 363.2 L799.5 363.7 L800.7 363.9 L801.8 363.8 L803.0 363.9 L804.1 364.2 L805.3 365.0 L806.4 365.6 L807.6 366.4 L808.7 367.0 L809.9 367.4 L811.0 367.8 L812.2 367.7 L813.3 367.9 L814.5 368.0 L815.6 368.6 L816.7 369.1 L817.9 369.7 L819.0 370.0 L820.2 370.0 L821.3 370.0 L822.5 370.1 L823.6 370.6 L824.8 371.0 L825.9 371.4 L827.1 371.3 L828.2 371.2 L829.4 370.9 L830.5 370.8 L831.7 370.9 L832.8 371.6 L834.0 371.9 L835.1 372.3 L836.3 372.6 L837.4 373.5 L838.6 373.9 L839.7 373.9 L840.9 373.3 L842.0 373.2 L843.2 373.3 L844.3 373.9 L845.4 374.4 L846.6 375.1 L847.7 375.8 L848.9 376.4 L850.0 376.7 L851.2 377.1 L852.3 377.5 L853.5 378.2 L854.6 378.6 L855.8 379.1 L856.9 379.8 L858.1 380.4 L859.2 380.7 L860.4 380.2 L861.5 379.6 L862.7 379.5 L863.8 379.7 L865.0 379.8 L866.1 379.5 L867.3 379.3 L868.4 379.1 L869.6 378.9 L870.7 378.7 L871.9 378.4 L873.0 378.2 L874.1 378.0 L875.3 377.9 L876.4 377.4 L877.6 377.4 L878.7 377.6 L879.9 378.2 L881.0 378.5 L882.2 378.9 L883.3 379.4 L884.5 379.8 L885.6 379.8 L886.8 379.7 L887.9 379.9 L889.1 380.4 L890.2 380.8 L891.4 380.7 L892.5 380.4 L893.7 380.0 L894.8 379.8 L896.0 379.5 L897.1 379.2 L898.3 379.3 L899.4 379.7 L900.6 380.3 L901.7 380.8 L902.8 381.1 L904.0 381.2 L905.1 381.4 L906.3 381.5 L907.4 381.7 L908.6 381.5 L909.7 381.3 L910.9 380.6 L912.0 380.6 L913.2 380.7 L914.3 381.6 L915.5 381.8 L916.6 382.2 L917.8 382.6 L918.9 383.3 L920.1 383.4 L921.2 383.0 L922.4 382.3 L923.5 382.3 L924.7 382.5 L925.8 382.3 L927.0 381.6 L928.1 380.5 L929.3 379.4 L930.4 378.0"/>
</g>
<g stroke="#000" stroke-width="2" fill="none" stroke-linecap="butt">
<path d="M586.0 17.8 V390.5"/>
<path d="M580.0 385.0 H931.4"/>
<path d="M580.0 332.7 H586.0"/>
<path d="M580.0 280.4 H586.0"/>
<path d="M580.0 228.1 H586.0"/>
<path d="M580.0 175.8 H586.0"/>
<path d="M580.0 123.4 H586.0"/>
<path d="M580.0 71.1 H586.0"/>
<path d="M580.0 18.8 H586.0"/>
<path d="M700.8 385.0 V390.5"/>
<path d="M815.6 385.0 V390.5"/>
<path d="M930.4 385.0 V390.5"/>
</g>
<g font-family='"Liberation Sans", Arial, sans-serif' font-size="18.4" fill="#000" class="t">
<text x="570.5" y="391.8" text-anchor="end">0</text>
<text x="570.5" y="339.5" text-anchor="end">100</text>
<text x="570.5" y="287.2" text-anchor="end">200</text>
<text x="570.5" y="234.9" text-anchor="end">300</text>
<text x="570.5" y="182.6" text-anchor="end">400</text>
<text x="570.5" y="130.3" text-anchor="end">500</text>
<text x="570.5" y="78.0" text-anchor="end">600</text>
<text x="570.5" y="25.7" text-anchor="end">700</text>
<text x="586.0" y="413.5" text-anchor="middle">350</text>
<text x="700.8" y="413.5" text-anchor="middle">450</text>
<text x="815.6" y="413.5" text-anchor="middle">550</text>
<text x="930.4" y="413.5" text-anchor="middle">650</text>
</g>
<path d="M663.4 49.5 V146.3" stroke="#000" stroke-width="1.7" fill="none"/><path d="M663.4 171.8 L654.7 139.0 L663.4 144.3 L672.1 139.0 Z" fill="#000"/>
<path d="M757.7 298.0 V340.2" stroke="#000" stroke-width="1.7" fill="none"/><path d="M757.7 270.8 L749.0 305.3 L757.7 300.0 L766.4 305.3 Z" fill="#000"/>
<g>
<rect x="679.2" y="67.0" width="155.7" height="190.3" fill="#000"/>
<g clip-path="url(#clipB)">
<rect x="689.0" y="68.0" width="58.5" height="190.3" fill="#010414" filter="url(#b2)"/>
<path d="M689.5 69.0 V257.3" stroke="#0a1660" stroke-width="1.6" opacity="0.8" fill="none" filter="url(#b1)"/>
<path d="M747.0 69.0 V257.3" stroke="#0a1660" stroke-width="1.6" opacity="0.8" fill="none" filter="url(#b1)"/>
<rect x="692.0" y="245.5" width="59.5" height="11.3" fill="#1e3ac2" filter="url(#b1)"/>
<path d="M695.5 98.7 Q718.8 108.7 742.0 98.7 V246.5 H695.5 Z" fill="url(#gBl)" filter="url(#b1)"/>
<path d="M695.5 98.2 Q718.8 107.7 742.0 98.2 L742.0 101.3 Q718.8 112.1 695.5 101.3 Z" fill="#2c60ea" filter="url(#b1)"/>
<rect x="761.5" y="68.0" width="59.5" height="190.3" fill="#01120e" filter="url(#b2)"/>
<path d="M762.0 69.0 V257.3" stroke="#0a4a3a" stroke-width="1.6" opacity="0.8" fill="none" filter="url(#b1)"/>
<path d="M820.5 69.0 V257.3" stroke="#0a4a3a" stroke-width="1.6" opacity="0.8" fill="none" filter="url(#b1)"/>
<path d="M764.5 97.0 V71.0 H818.5 V97.0" stroke="#0c5848" stroke-width="1.4" opacity="0.85" fill="none" filter="url(#b1)"/>
<rect x="816.0" y="99.8" width="5.5" height="159.5" fill="#0a6a48" filter="url(#b1)"/>
<rect x="764.0" y="246.5" width="58.0" height="10.3" fill="#22ba86" filter="url(#b1)"/>
<path d="M767.6 97.8 Q791.8 106.2 816.0 97.8 V247.5 H767.6 Z" fill="url(#gBr)" filter="url(#b1)"/>
<path d="M767.6 97.3 Q791.8 105.2 816.0 97.3 L816.0 100.4 Q791.8 109.6 767.6 100.4 Z" fill="#40f0a8" filter="url(#b1)"/>
</g>
<g font-family='"Liberation Sans", Arial, sans-serif' font-weight="bold" font-size="16.4" fill="#fff">
<text x="708.4" y="90.0" textLength="21.6" lengthAdjust="spacingAndGlyphs">G2</text>
<text x="750.2" y="89.2" textLength="75.5" lengthAdjust="spacingAndGlyphs">G2+Host-2</text>
</g>
</g>
<g font-family='"Liberation Sans", Arial, sans-serif' font-size="17.7" fill="#000" class="t">
<path d="M852.3 88.2 H885.2" stroke="#0000ff" stroke-width="3.9" fill="none"/>
<text x="888.0" y="94.2">free G2</text>
<path d="M853.3 117.8 H885.2" stroke="#96400c" stroke-width="2.4" fill="none"/>
<text x="888.0" y="123.8">0.1</text>
<path d="M853.3 147.4 H885.2" stroke="#12153f" stroke-width="2.4" fill="none"/>
<text x="888.0" y="153.4">0.2</text>
<path d="M853.3 177.0 H885.2" stroke="#143414" stroke-width="2.4" fill="none"/>
<text x="888.0" y="183.0">0.3</text>
<path d="M853.3 206.6 H885.2" stroke="#c81616" stroke-width="2.4" fill="none"/>
<text x="888.0" y="212.6">0.4</text>
<path d="M853.3 236.2 H885.2" stroke="#00e650" stroke-width="3.4" fill="none"/>
<text x="888.0" y="242.2">0.5</text>
<path d="M853.3 265.8 H885.2" stroke="#ff6a16" stroke-width="2.4" fill="none"/>
<text x="888.0" y="271.8">0.7</text>
<path d="M853.3 295.4 H885.2" stroke="#15155c" stroke-width="2.4" fill="none"/>
<text x="888.0" y="301.4">0.9</text>
<path d="M853.3 325.0 H885.2" stroke="#ff0a0a" stroke-width="2.4" fill="none"/>
<text x="888.0" y="331.0">1.1</text>
<text x="914.0" y="328.2" font-family='"Liberation Serif", "Times New Roman", serif' font-size="23" style="stroke-width:.3px">equiv</text>
</g>
<g fill="#000" class="t">
<g clip-path="url(#clipYL)"><text transform="translate(526.3 366) rotate(-90)" font-family='"Liberation Sans", Arial, sans-serif' font-size="23.5" style="stroke-width:.8px">Fluorescence Intensity (a.u.)</text></g>
<g clip-path="url(#clipWL)"><text x="651.8" y="442.4" font-family='"Liberation Sans", Arial, sans-serif' font-size="23.5" style="stroke-width:.8px">Wavelength (nm)</text></g>
</g>
<text x="577.2" y="439.4" font-family='"Liberation Serif", "Times New Roman", serif' font-size="28.5" letter-spacing="0.5" fill="#000" stroke="#000" stroke-width="0.3">(b)</text>
</g>
</svg>
</body></html>
